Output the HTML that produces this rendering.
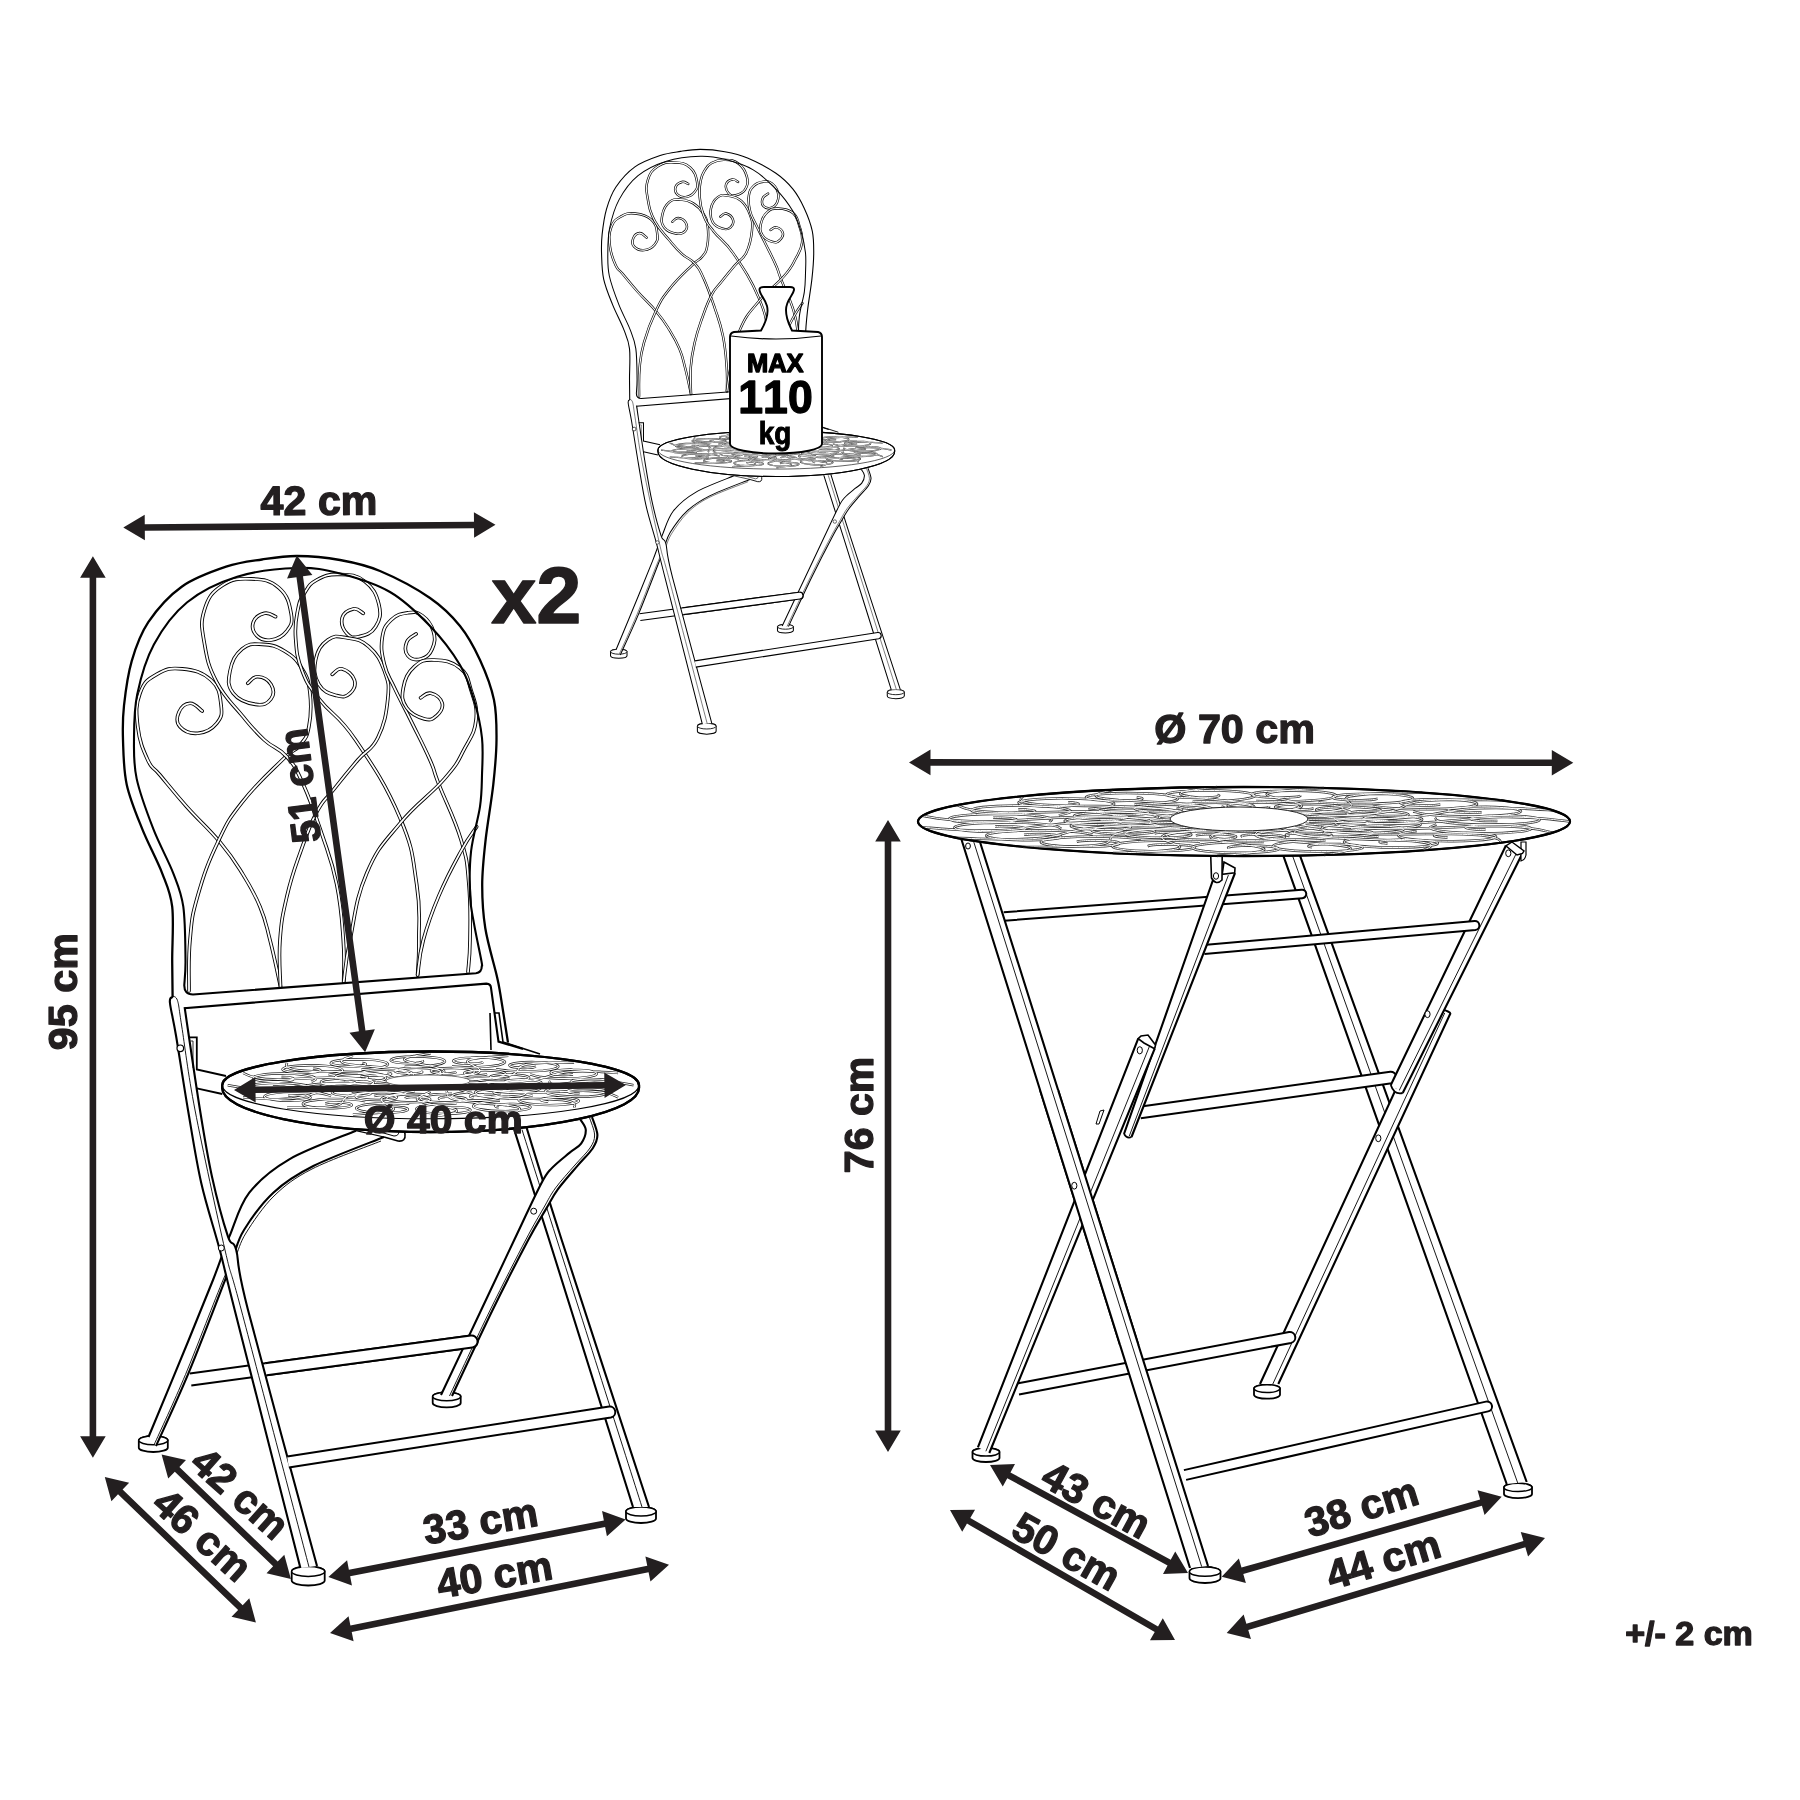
<!DOCTYPE html><html><head><meta charset="utf-8"><style>html,body{margin:0;padding:0;background:#fff;}svg{display:block;will-change:transform;}text{font-family:"Liberation Sans",sans-serif;font-weight:bold;font-kerning:none;}</style></head><body>
<svg width="1800" height="1800" viewBox="0 0 1800 1800">
<rect width="1800" height="1800" fill="#fff"/>
<defs><path id="pat0" d="M471.6,1085.2 C473.8,1085.3 480.5,1085.6 484.9,1085.8 C489.3,1086.1 493.6,1086.4 497.9,1086.6 C502.3,1086.8 506.6,1087.1 511,1087.2 C515.5,1087.3 520.1,1087.3 524.7,1087.2 C529.3,1087.1 534.1,1086.8 538.7,1086.5 C543.4,1086.2 548.1,1085.7 552.6,1085.2 C557.1,1084.6 561.4,1084 565.6,1083.5 C569.9,1082.9 573.9,1082.3 578.1,1081.9 C582.4,1081.5 586.5,1081.2 591,1081.1 C595.4,1081 600.1,1081.1 604.9,1081.4 C609.6,1081.6 614.7,1082.2 619.4,1082.8 C624.2,1083.4 631.2,1084.8 633.5,1085.2 M468.5,1087.6 C470.3,1087.8 475.7,1088.5 479.1,1089 C482.6,1089.5 485.7,1090.1 489.2,1090.5 C492.7,1091 496.1,1091.5 500,1091.8 C503.8,1092.2 508,1092.5 512.5,1092.7 C517,1092.8 522.1,1092.9 527.2,1092.9 C532.3,1092.8 537.9,1092.6 543.3,1092.4 C548.7,1092.2 554.3,1091.9 559.5,1091.7 C564.8,1091.4 569.9,1091.1 574.8,1091 C579.6,1090.9 584.3,1090.8 588.7,1091 C593,1091.2 597.2,1091.5 600.9,1092.1 C604.6,1092.6 608,1093.4 610.9,1094.2 C613.7,1095.1 616.9,1096.8 618.1,1097.3 M459.6,1089.7 C460.6,1090 463.9,1091 465.9,1091.6 C467.9,1092.3 469.5,1093 471.6,1093.6 C473.6,1094.3 475.6,1094.9 478.3,1095.5 C481,1096 484.1,1096.6 487.8,1097 C491.6,1097.4 496.1,1097.8 500.9,1098 C505.8,1098.3 511.4,1098.5 516.8,1098.6 C522.3,1098.7 528.3,1098.8 533.7,1098.9 C539.2,1099 544.7,1099 549.5,1099.2 C554.2,1099.4 558.7,1099.6 562.3,1100 C565.9,1100.4 568.9,1101 571,1101.7 C573.1,1102.4 574.3,1103.3 574.8,1104.3 C575.4,1105.3 574.2,1107 574.1,1107.6 M446.3,1091.1 C446.5,1091.4 447.1,1092.5 447.4,1093.2 C447.6,1094 447.4,1094.7 447.7,1095.4 C448,1096.1 448.3,1096.8 449.4,1097.5 C450.5,1098.2 452,1098.9 454.5,1099.5 C456.9,1100.1 460.2,1100.7 464,1101.3 C467.8,1101.8 472.6,1102.3 477.3,1102.7 C482,1103.2 487.5,1103.6 492.3,1104 C497.1,1104.4 502.1,1104.7 506.1,1105.2 C510,1105.7 513.6,1106.1 515.9,1106.7 C518.2,1107.3 519.6,1108 519.7,1108.8 C519.9,1109.6 518.8,1110.5 516.9,1111.5 C514.9,1112.4 509.7,1113.9 508.3,1114.4 M430.6,1091.6 C429.9,1091.9 427.8,1092.9 426.2,1093.6 C424.7,1094.3 422.6,1095 421.2,1095.7 C419.8,1096.3 418.2,1097 417.6,1097.7 C417,1098.4 416.8,1099.1 417.5,1099.8 C418.2,1100.6 419.7,1101.3 421.9,1102 C424.1,1102.8 427.4,1103.5 430.6,1104.2 C433.8,1104.9 438,1105.6 441.4,1106.2 C444.9,1106.9 448.7,1107.5 451.2,1108.2 C453.7,1108.8 455.9,1109.5 456.5,1110.2 C457.1,1110.9 456.7,1111.6 454.9,1112.4 C453.1,1113.1 449.8,1113.9 445.7,1114.6 C441.7,1115.4 433.1,1116.5 430.6,1116.8 M414.9,1091.1 C413.4,1091.3 408.9,1092.2 405.8,1092.7 C402.7,1093.3 399.1,1093.8 396.2,1094.3 C393.2,1094.8 390.1,1095.4 387.8,1096 C385.5,1096.6 383.6,1097.2 382.5,1097.9 C381.4,1098.6 381,1099.4 381.2,1100.2 C381.5,1101 382.6,1101.9 383.9,1102.7 C385.2,1103.6 387.4,1104.5 388.9,1105.3 C390.5,1106.1 392.4,1106.9 393.1,1107.7 C393.9,1108.4 394.3,1109.1 393.1,1109.8 C392,1110.5 389.8,1111.2 386.4,1111.7 C382.9,1112.3 377.9,1112.8 372.3,1113.3 C366.7,1113.7 356.2,1114.2 352.9,1114.4 M401.6,1089.7 C399.5,1089.8 393.3,1090.4 389.1,1090.7 C384.9,1091 380.4,1091.2 376.3,1091.5 C372.2,1091.9 368.1,1092.2 364.5,1092.6 C360.9,1093 357.6,1093.5 354.8,1094.1 C352,1094.7 349.8,1095.4 348,1096.1 C346.3,1096.9 345.2,1097.8 344.4,1098.6 C343.5,1099.5 343.4,1100.4 342.8,1101.3 C342.2,1102.1 342,1103 340.8,1103.7 C339.6,1104.4 338.2,1105.1 335.5,1105.7 C332.8,1106.3 329.2,1106.7 324.6,1107.1 C319.9,1107.4 314,1107.6 307.8,1107.7 C301.5,1107.7 290.5,1107.6 287.1,1107.6 M392.7,1087.6 C390.4,1087.6 383.4,1087.7 378.7,1087.8 C374.1,1087.8 369.4,1087.8 364.8,1087.8 C360.2,1087.9 355.7,1087.9 351.3,1088.1 C347,1088.3 342.7,1088.5 338.7,1088.9 C334.7,1089.3 330.8,1089.8 327.4,1090.4 C323.9,1091 320.8,1091.7 317.9,1092.4 C315,1093.2 312.6,1094 310,1094.8 C307.4,1095.5 305.1,1096.3 302.2,1096.9 C299.2,1097.5 296.2,1098.1 292.3,1098.5 C288.4,1098.8 284,1099 278.9,1099.1 C273.8,1099.1 267.9,1098.9 261.9,1098.6 C256,1098.3 246.2,1097.5 243.1,1097.3 M389.6,1085.2 C387.4,1085 380.7,1084.7 376.3,1084.5 C371.9,1084.2 367.6,1083.9 363.3,1083.7 C358.9,1083.5 354.6,1083.2 350.2,1083.1 C345.7,1083 341.1,1083 336.5,1083.1 C331.9,1083.2 327.1,1083.5 322.5,1083.8 C317.8,1084.1 313.1,1084.6 308.6,1085.2 C304.1,1085.7 299.8,1086.3 295.6,1086.8 C291.3,1087.4 287.3,1088 283.1,1088.4 C278.8,1088.8 274.7,1089.1 270.2,1089.2 C265.8,1089.3 261.1,1089.2 256.3,1088.9 C251.6,1088.7 246.5,1088.1 241.8,1087.5 C237,1086.9 230,1085.5 227.7,1085.2 M392.7,1082.7 C390.9,1082.5 385.5,1081.8 382.1,1081.3 C378.6,1080.8 375.5,1080.2 372,1079.8 C368.5,1079.3 365.1,1078.8 361.2,1078.5 C357.4,1078.1 353.2,1077.8 348.7,1077.6 C344.2,1077.5 339.1,1077.4 334,1077.4 C328.9,1077.5 323.3,1077.7 317.9,1077.9 C312.5,1078.1 306.9,1078.4 301.7,1078.6 C296.4,1078.9 291.3,1079.2 286.4,1079.3 C281.6,1079.4 276.9,1079.5 272.5,1079.3 C268.2,1079.1 264,1078.8 260.3,1078.2 C256.6,1077.7 253.2,1076.9 250.3,1076.1 C247.5,1075.2 244.3,1073.5 243.1,1073 M401.6,1080.6 C400.6,1080.3 397.3,1079.3 395.3,1078.7 C393.3,1078 391.7,1077.3 389.6,1076.7 C387.6,1076 385.6,1075.4 382.9,1074.8 C380.2,1074.3 377.1,1073.7 373.4,1073.3 C369.6,1072.9 365.1,1072.5 360.3,1072.3 C355.4,1072 349.8,1071.8 344.4,1071.7 C338.9,1071.6 332.9,1071.5 327.5,1071.4 C322,1071.3 316.5,1071.3 311.7,1071.1 C307,1070.9 302.5,1070.7 298.9,1070.3 C295.3,1069.9 292.3,1069.3 290.2,1068.6 C288.1,1067.9 286.9,1067 286.4,1066 C285.8,1065 287,1063.3 287.1,1062.7 M414.9,1079.2 C414.7,1078.9 414.1,1077.8 413.8,1077.1 C413.6,1076.3 413.8,1075.6 413.5,1074.9 C413.2,1074.2 412.9,1073.5 411.8,1072.8 C410.7,1072.1 409.2,1071.4 406.7,1070.8 C404.3,1070.2 401,1069.6 397.2,1069 C393.4,1068.5 388.6,1068 383.9,1067.6 C379.2,1067.1 373.7,1066.7 368.9,1066.3 C364.1,1065.9 359.1,1065.6 355.1,1065.1 C351.2,1064.6 347.6,1064.2 345.3,1063.6 C343,1063 341.6,1062.3 341.5,1061.5 C341.3,1060.7 342.4,1059.8 344.3,1058.8 C346.3,1057.9 351.5,1056.4 352.9,1055.9 M430.6,1078.8 C431.3,1078.4 433.4,1077.4 435,1076.7 C436.5,1076 438.6,1075.3 440,1074.6 C441.4,1074 443,1073.3 443.6,1072.6 C444.2,1071.9 444.4,1071.2 443.7,1070.5 C443,1069.7 441.5,1069 439.3,1068.3 C437.1,1067.5 433.8,1066.8 430.6,1066.1 C427.4,1065.4 423.2,1064.7 419.8,1064.1 C416.3,1063.4 412.5,1062.8 410,1062.1 C407.5,1061.5 405.3,1060.8 404.7,1060.1 C404.1,1059.4 404.5,1058.7 406.3,1057.9 C408.1,1057.2 411.4,1056.4 415.5,1055.7 C419.5,1054.9 428.1,1053.8 430.6,1053.5 M446.3,1079.2 C447.8,1079 452.3,1078.1 455.4,1077.6 C458.5,1077 462.1,1076.5 465,1076 C468,1075.5 471.1,1074.9 473.4,1074.3 C475.7,1073.7 477.6,1073.1 478.7,1072.4 C479.8,1071.7 480.2,1070.9 480,1070.1 C479.7,1069.3 478.6,1068.4 477.3,1067.6 C476,1066.7 473.8,1065.8 472.3,1065 C470.7,1064.2 468.8,1063.4 468.1,1062.6 C467.3,1061.9 466.9,1061.2 468.1,1060.5 C469.2,1059.8 471.4,1059.1 474.8,1058.6 C478.3,1058 483.3,1057.5 488.9,1057 C494.5,1056.6 505,1056.1 508.3,1055.9 M459.6,1080.6 C461.7,1080.5 467.9,1079.9 472.1,1079.6 C476.3,1079.3 480.8,1079.1 484.9,1078.8 C489,1078.4 493.1,1078.1 496.7,1077.7 C500.3,1077.3 503.6,1076.8 506.4,1076.2 C509.2,1075.6 511.4,1074.9 513.2,1074.2 C514.9,1073.4 516,1072.5 516.8,1071.7 C517.7,1070.8 517.8,1069.9 518.4,1069 C519,1068.2 519.2,1067.3 520.4,1066.6 C521.6,1065.9 523,1065.2 525.7,1064.6 C528.4,1064 532,1063.6 536.6,1063.2 C541.3,1062.9 547.2,1062.7 553.4,1062.6 C559.7,1062.6 570.7,1062.7 574.1,1062.7 M468.5,1082.7 C470.8,1082.7 477.8,1082.6 482.5,1082.5 C487.1,1082.5 491.8,1082.5 496.4,1082.5 C501,1082.4 505.5,1082.4 509.9,1082.2 C514.2,1082 518.5,1081.8 522.5,1081.4 C526.5,1081 530.4,1080.5 533.8,1079.9 C537.3,1079.3 540.4,1078.6 543.3,1077.9 C546.2,1077.1 548.6,1076.3 551.2,1075.5 C553.8,1074.8 556.1,1074 559,1073.4 C562,1072.8 565,1072.2 568.9,1071.8 C572.8,1071.5 577.2,1071.3 582.3,1071.2 C587.4,1071.2 593.3,1071.4 599.3,1071.7 C605.2,1072 615,1072.8 618.1,1073 M516.9,1089.1 C516.2,1089.1 513.9,1089.1 512.5,1089 C511.1,1088.9 509.5,1088.8 508.4,1088.6 C507.4,1088.4 506.4,1088.1 506.1,1087.7 C505.8,1087.4 505.9,1087.1 506.7,1086.8 C507.4,1086.4 508.8,1086.1 510.6,1085.8 C512.4,1085.6 514.9,1085.4 517.4,1085.3 C520,1085.2 523.1,1085.2 525.8,1085.3 C528.5,1085.4 531.5,1085.7 533.7,1086 C535.9,1086.3 538,1086.8 539,1087.3 C540.1,1087.7 540.5,1088.3 539.9,1088.9 C539.3,1089.4 537.8,1090 535.6,1090.5 C533.3,1090.9 530,1091.4 526.4,1091.6 C522.9,1091.9 518.4,1092 514.2,1092 C510.1,1092 505.4,1091.7 501.7,1091.4 C498,1091 494.2,1090.5 491.9,1089.9 C489.5,1089.3 487.8,1088.5 487.5,1087.7 C487.2,1087 489.8,1085.8 490.2,1085.4 M500.6,1094 C499.9,1093.9 497.8,1093.8 496.7,1093.6 C495.7,1093.5 494.6,1093.2 494.1,1093 C493.7,1092.7 493.5,1092.4 494,1092.1 C494.5,1091.8 495.5,1091.4 496.9,1091.2 C498.4,1090.9 500.5,1090.7 502.8,1090.6 C505.1,1090.4 507.9,1090.4 510.5,1090.5 C513.1,1090.5 516,1090.7 518.2,1091 C520.4,1091.2 522.6,1091.6 523.9,1092.1 C525.1,1092.5 525.9,1093.1 525.6,1093.6 C525.4,1094.1 524.3,1094.7 522.5,1095.1 C520.6,1095.6 517.8,1096 514.6,1096.3 C511.4,1096.6 507.2,1096.8 503.3,1096.8 C499.4,1096.9 494.8,1096.7 491.1,1096.5 C487.4,1096.2 483.5,1095.7 481,1095.2 C478.4,1094.6 476.3,1093.9 475.6,1093.2 C474.9,1092.5 475.3,1091.6 476.9,1090.9 C478.4,1090.2 483.7,1089.3 485,1088.9 M473.6,1097.5 C473.2,1097.4 471.5,1097.2 470.9,1096.9 C470.3,1096.7 469.9,1096.4 470.2,1096.2 C470.4,1095.9 471.1,1095.6 472.2,1095.3 C473.4,1095.1 475.1,1094.8 477.1,1094.7 C479.1,1094.5 481.7,1094.4 484,1094.5 C486.4,1094.5 489.2,1094.6 491.4,1094.8 C493.6,1095 495.9,1095.4 497.3,1095.8 C498.7,1096.1 499.7,1096.6 499.8,1097.1 C499.9,1097.6 499.2,1098.2 497.7,1098.6 C496.3,1099.1 493.9,1099.5 491,1099.8 C488.2,1100.2 484.4,1100.4 480.8,1100.5 C477.1,1100.6 472.7,1100.5 469.1,1100.3 C465.4,1100.1 461.5,1099.7 458.8,1099.2 C456,1098.7 453.6,1098.1 452.6,1097.4 C451.5,1096.8 451.4,1096 452.5,1095.3 C453.6,1094.6 456,1093.8 459.1,1093.3 C462.3,1092.7 469.5,1092.1 471.6,1091.9 M440.1,1099.1 C439.9,1099 438.9,1098.7 438.9,1098.4 C438.9,1098.2 439.3,1097.9 440.2,1097.7 C441,1097.4 442.4,1097.2 444.1,1097 C445.8,1096.9 448,1096.7 450.2,1096.7 C452.4,1096.7 455,1096.8 457.1,1097 C459.3,1097.1 461.5,1097.4 463.1,1097.7 C464.6,1098.1 465.8,1098.5 466.2,1098.9 C466.5,1099.4 466.2,1099.9 465.2,1100.3 C464.1,1100.8 462.1,1101.3 459.6,1101.6 C457.2,1101.9 453.8,1102.2 450.4,1102.3 C447,1102.5 442.9,1102.5 439.3,1102.3 C435.8,1102.2 431.9,1101.9 429,1101.4 C426.1,1101 423.5,1100.4 422.1,1099.8 C420.8,1099.2 420.2,1098.5 420.8,1097.8 C421.5,1097.1 423.3,1096.4 426,1095.8 C428.7,1095.2 432.8,1094.7 437.1,1094.3 C441.4,1094 449.4,1093.9 451.9,1093.8 M405.2,1098.6 C405.3,1098.5 405.1,1098.2 405.7,1097.9 C406.3,1097.7 407.3,1097.5 408.7,1097.3 C410.1,1097.1 412,1097 414,1096.9 C415.9,1096.9 418.3,1096.9 420.3,1097 C422.4,1097.1 424.6,1097.4 426.2,1097.6 C427.7,1097.9 429.2,1098.3 429.8,1098.7 C430.3,1099.1 430.4,1099.6 429.7,1100 C428.9,1100.4 427.4,1100.9 425.3,1101.3 C423.2,1101.6 420.2,1101.9 417.1,1102.1 C414,1102.2 410.2,1102.3 406.7,1102.2 C403.3,1102.1 399.5,1101.9 396.6,1101.5 C393.6,1101.2 390.8,1100.7 389.2,1100.1 C387.5,1099.6 386.6,1098.8 386.8,1098.2 C387,1097.6 388.3,1096.8 390.6,1096.2 C392.8,1095.7 396.4,1095.1 400.3,1094.7 C404.2,1094.3 409.3,1094.1 414.1,1094 C418.8,1094 426.5,1094.4 428.9,1094.5 M374.1,1096.1 C374.5,1096 375.2,1095.6 376.3,1095.5 C377.3,1095.3 378.9,1095.1 380.6,1095.1 C382.3,1095 384.4,1095 386.3,1095 C388.2,1095.1 390.4,1095.3 392,1095.5 C393.6,1095.7 395.1,1096.1 395.9,1096.4 C396.7,1096.8 397,1097.2 396.6,1097.6 C396.2,1098 395,1098.5 393.3,1098.8 C391.6,1099.2 389,1099.5 386.2,1099.7 C383.4,1099.9 379.9,1100 376.6,1100 C373.4,1099.9 369.7,1099.8 366.7,1099.5 C363.8,1099.2 360.8,1098.8 359,1098.3 C357.1,1097.8 355.8,1097.1 355.6,1096.5 C355.5,1095.9 356.3,1095.2 358.1,1094.6 C359.9,1094 362.9,1093.4 366.4,1093 C369.9,1092.6 374.6,1092.3 379.1,1092.2 C383.6,1092.1 389,1092.1 393.5,1092.4 C398.1,1092.6 404.1,1093.4 406.3,1093.6 M351.6,1091.9 C352.2,1091.8 353.7,1091.5 355.1,1091.4 C356.5,1091.4 358.4,1091.3 360.1,1091.3 C361.8,1091.4 363.9,1091.5 365.4,1091.6 C367,1091.8 368.6,1092.1 369.5,1092.4 C370.4,1092.7 371.1,1093.1 370.9,1093.5 C370.8,1093.9 370,1094.3 368.6,1094.6 C367.2,1095 365.1,1095.3 362.6,1095.6 C360.2,1095.8 356.9,1095.9 353.9,1095.9 C350.9,1096 347.3,1095.9 344.4,1095.6 C341.5,1095.4 338.4,1095 336.4,1094.6 C334.4,1094.1 332.8,1093.6 332.3,1093 C331.8,1092.4 332.2,1091.7 333.5,1091.2 C334.9,1090.6 337.4,1090 340.5,1089.5 C343.6,1089.1 347.8,1088.7 352,1088.6 C356.3,1088.4 361.4,1088.4 365.8,1088.6 C370.3,1088.7 375.1,1089.1 378.7,1089.6 C382.2,1090.1 385.8,1091.2 387.3,1091.5 M341.2,1086.6 C341.9,1086.6 343.9,1086.4 345.4,1086.5 C346.9,1086.5 348.8,1086.5 350.3,1086.6 C351.8,1086.8 353.5,1087 354.5,1087.3 C355.5,1087.5 356.3,1087.9 356.4,1088.2 C356.5,1088.5 356.1,1089 355,1089.3 C354,1089.6 352.2,1090 350.1,1090.2 C347.9,1090.5 345.1,1090.6 342.3,1090.7 C339.5,1090.8 336.1,1090.7 333.3,1090.5 C330.4,1090.4 327.4,1090.1 325.3,1089.7 C323.1,1089.3 321.2,1088.8 320.5,1088.2 C319.7,1087.7 319.6,1087.1 320.6,1086.5 C321.5,1086 323.5,1085.3 326.2,1084.9 C328.9,1084.5 332.7,1084 336.6,1083.8 C340.5,1083.6 345.3,1083.5 349.6,1083.6 C353.9,1083.7 358.7,1084 362.4,1084.4 C366.1,1084.9 369.6,1085.5 371.7,1086.2 C373.8,1086.8 374.4,1088.1 374.9,1088.5 M344.3,1081.2 C345,1081.2 347.3,1081.2 348.7,1081.3 C350.1,1081.4 351.7,1081.5 352.8,1081.7 C353.8,1081.9 354.8,1082.2 355.1,1082.6 C355.4,1082.9 355.3,1083.2 354.5,1083.5 C353.8,1083.9 352.4,1084.2 350.6,1084.5 C348.8,1084.7 346.3,1084.9 343.8,1085 C341.2,1085.1 338.1,1085.1 335.4,1085 C332.7,1084.9 329.7,1084.6 327.5,1084.3 C325.3,1084 323.2,1083.5 322.2,1083 C321.1,1082.6 320.7,1082 321.3,1081.4 C321.9,1080.9 323.4,1080.3 325.6,1079.8 C327.9,1079.4 331.2,1078.9 334.8,1078.7 C338.3,1078.4 342.8,1078.3 347,1078.3 C351.1,1078.3 355.8,1078.6 359.5,1078.9 C363.2,1079.3 367,1079.8 369.3,1080.4 C371.7,1081 373.4,1081.8 373.7,1082.6 C374,1083.3 371.4,1084.5 371,1084.9 M360.6,1076.3 C361.3,1076.4 363.4,1076.5 364.5,1076.7 C365.5,1076.8 366.6,1077.1 367.1,1077.3 C367.5,1077.6 367.7,1077.9 367.2,1078.2 C366.7,1078.5 365.7,1078.9 364.3,1079.1 C362.8,1079.4 360.7,1079.6 358.4,1079.7 C356.1,1079.9 353.3,1079.9 350.7,1079.8 C348.1,1079.8 345.2,1079.6 343,1079.3 C340.8,1079.1 338.6,1078.7 337.3,1078.2 C336.1,1077.8 335.3,1077.2 335.6,1076.7 C335.8,1076.2 336.9,1075.6 338.7,1075.2 C340.6,1074.7 343.4,1074.3 346.6,1074 C349.8,1073.7 354,1073.5 357.9,1073.5 C361.8,1073.4 366.4,1073.6 370.1,1073.8 C373.8,1074.1 377.7,1074.6 380.2,1075.1 C382.8,1075.7 384.9,1076.4 385.6,1077.1 C386.3,1077.8 385.9,1078.7 384.3,1079.4 C382.8,1080.1 377.5,1081 376.2,1081.4 M387.6,1072.8 C388,1072.9 389.7,1073.1 390.3,1073.4 C390.9,1073.6 391.3,1073.9 391,1074.1 C390.8,1074.4 390.1,1074.7 389,1075 C387.8,1075.2 386.1,1075.5 384.1,1075.6 C382.1,1075.8 379.5,1075.9 377.2,1075.8 C374.8,1075.8 372,1075.7 369.8,1075.5 C367.6,1075.3 365.3,1074.9 363.9,1074.5 C362.5,1074.2 361.5,1073.7 361.4,1073.2 C361.3,1072.7 362,1072.1 363.5,1071.7 C364.9,1071.2 367.3,1070.8 370.2,1070.5 C373,1070.1 376.8,1069.9 380.4,1069.8 C384.1,1069.7 388.5,1069.8 392.1,1070 C395.8,1070.2 399.7,1070.6 402.4,1071.1 C405.2,1071.6 407.6,1072.2 408.6,1072.9 C409.7,1073.5 409.8,1074.3 408.7,1075 C407.6,1075.7 405.2,1076.5 402.1,1077 C398.9,1077.6 391.7,1078.2 389.6,1078.4 M421.1,1071.2 C421.3,1071.3 422.3,1071.6 422.3,1071.9 C422.3,1072.1 421.9,1072.4 421,1072.6 C420.2,1072.9 418.8,1073.1 417.1,1073.3 C415.4,1073.4 413.2,1073.6 411,1073.6 C408.8,1073.6 406.2,1073.5 404.1,1073.3 C401.9,1073.2 399.7,1072.9 398.1,1072.6 C396.6,1072.2 395.4,1071.8 395,1071.4 C394.7,1070.9 395,1070.4 396,1070 C397.1,1069.5 399.1,1069 401.6,1068.7 C404,1068.4 407.4,1068.1 410.8,1068 C414.2,1067.8 418.3,1067.8 421.9,1068 C425.4,1068.1 429.3,1068.4 432.2,1068.9 C435.1,1069.3 437.7,1069.9 439.1,1070.5 C440.4,1071.1 441,1071.8 440.4,1072.5 C439.7,1073.2 437.9,1073.9 435.2,1074.5 C432.5,1075.1 428.4,1075.6 424.1,1076 C419.8,1076.3 411.8,1076.4 409.3,1076.5 M456,1071.7 C455.9,1071.8 456.1,1072.1 455.5,1072.4 C454.9,1072.6 453.9,1072.8 452.5,1073 C451.1,1073.2 449.2,1073.3 447.2,1073.4 C445.3,1073.4 442.9,1073.4 440.9,1073.3 C438.8,1073.2 436.6,1072.9 435,1072.7 C433.5,1072.4 432,1072 431.4,1071.6 C430.9,1071.2 430.8,1070.7 431.5,1070.3 C432.3,1069.9 433.8,1069.4 435.9,1069 C438,1068.7 441,1068.4 444.1,1068.2 C447.2,1068.1 451,1068 454.5,1068.1 C457.9,1068.2 461.7,1068.4 464.6,1068.8 C467.6,1069.1 470.4,1069.6 472,1070.2 C473.7,1070.7 474.6,1071.5 474.4,1072.1 C474.2,1072.7 472.9,1073.5 470.6,1074.1 C468.4,1074.6 464.8,1075.2 460.9,1075.6 C457,1076 451.9,1076.2 447.1,1076.3 C442.4,1076.3 434.7,1075.9 432.3,1075.8 M487.1,1074.2 C486.7,1074.3 486,1074.7 484.9,1074.8 C483.9,1075 482.3,1075.2 480.6,1075.2 C478.9,1075.3 476.8,1075.3 474.9,1075.3 C473,1075.2 470.8,1075 469.2,1074.8 C467.6,1074.6 466.1,1074.2 465.3,1073.9 C464.5,1073.5 464.2,1073.1 464.6,1072.7 C465,1072.3 466.2,1071.8 467.9,1071.5 C469.6,1071.1 472.2,1070.8 475,1070.6 C477.8,1070.4 481.3,1070.3 484.6,1070.3 C487.8,1070.4 491.5,1070.5 494.5,1070.8 C497.4,1071.1 500.4,1071.5 502.2,1072 C504.1,1072.5 505.4,1073.2 505.6,1073.8 C505.7,1074.4 504.9,1075.1 503.1,1075.7 C501.3,1076.3 498.3,1076.9 494.8,1077.3 C491.3,1077.7 486.6,1078 482.1,1078.1 C477.6,1078.2 472.2,1078.2 467.7,1077.9 C463.1,1077.7 457.1,1076.9 454.9,1076.7 M509.6,1078.4 C509,1078.5 507.5,1078.8 506.1,1078.9 C504.7,1078.9 502.8,1079 501.1,1079 C499.4,1078.9 497.3,1078.8 495.8,1078.7 C494.2,1078.5 492.6,1078.2 491.7,1077.9 C490.8,1077.6 490.1,1077.2 490.3,1076.8 C490.4,1076.4 491.2,1076 492.6,1075.7 C494,1075.3 496.1,1075 498.6,1074.7 C501,1074.5 504.3,1074.4 507.3,1074.4 C510.3,1074.3 513.9,1074.4 516.8,1074.7 C519.7,1074.9 522.8,1075.3 524.8,1075.7 C526.8,1076.2 528.4,1076.7 528.9,1077.3 C529.4,1077.9 529,1078.6 527.7,1079.1 C526.3,1079.7 523.8,1080.3 520.7,1080.8 C517.6,1081.2 513.4,1081.6 509.2,1081.7 C504.9,1081.9 499.8,1081.9 495.4,1081.7 C490.9,1081.6 486.1,1081.2 482.5,1080.7 C479,1080.2 475.4,1079.1 473.9,1078.8 M520,1083.7 C519.3,1083.7 517.3,1083.9 515.8,1083.8 C514.3,1083.8 512.4,1083.8 510.9,1083.7 C509.4,1083.5 507.7,1083.3 506.7,1083 C505.7,1082.8 504.9,1082.4 504.8,1082.1 C504.7,1081.8 505.1,1081.3 506.2,1081 C507.2,1080.7 509,1080.3 511.1,1080.1 C513.3,1079.8 516.1,1079.7 518.9,1079.6 C521.7,1079.5 525.1,1079.6 527.9,1079.8 C530.8,1079.9 533.8,1080.2 535.9,1080.6 C538.1,1081 540,1081.5 540.7,1082.1 C541.5,1082.6 541.6,1083.2 540.6,1083.8 C539.7,1084.3 537.7,1085 535,1085.4 C532.3,1085.8 528.5,1086.3 524.6,1086.5 C520.7,1086.7 515.9,1086.8 511.6,1086.7 C507.3,1086.6 502.5,1086.3 498.8,1085.9 C495.1,1085.4 491.6,1084.8 489.5,1084.1 C487.4,1083.5 486.8,1082.2 486.3,1081.8 M579.6,1093.3 C578.7,1093.3 576,1093.3 574.4,1093.2 C572.7,1093 570.9,1092.8 569.8,1092.5 C568.7,1092.3 567.7,1091.9 567.5,1091.5 C567.4,1091.2 567.7,1090.7 568.8,1090.3 C569.9,1090 571.8,1089.6 574.1,1089.3 C576.4,1089 579.5,1088.8 582.6,1088.7 C585.7,1088.7 589.4,1088.7 592.6,1088.9 C595.8,1089.1 599.2,1089.4 601.7,1089.8 C604.1,1090.2 606.3,1090.8 607.2,1091.4 C608.2,1092 608.3,1092.7 607.3,1093.4 C606.3,1094 604.1,1094.7 601.1,1095.2 C598.1,1095.7 593.9,1096.2 589.5,1096.5 C585,1096.7 579.5,1096.8 574.6,1096.7 C569.7,1096.6 564.2,1096.3 560,1095.8 C555.7,1095.3 551.6,1094.6 549.2,1093.9 C546.7,1093.1 545.2,1092.1 545.3,1091.2 C545.4,1090.3 549.2,1088.9 549.9,1088.5 M548.2,1101.6 C547.5,1101.5 545,1101.4 543.8,1101.1 C542.6,1100.9 541.5,1100.6 541.1,1100.3 C540.7,1100 540.7,1099.6 541.5,1099.2 C542.2,1098.9 543.6,1098.5 545.6,1098.2 C547.5,1097.9 550.2,1097.7 552.9,1097.6 C555.7,1097.5 559.2,1097.4 562.2,1097.5 C565.2,1097.7 568.6,1097.9 571.1,1098.3 C573.6,1098.6 576,1099.1 577.2,1099.7 C578.4,1100.2 579,1100.9 578.4,1101.5 C577.8,1102.1 576.2,1102.8 573.7,1103.3 C571.2,1103.8 567.5,1104.3 563.5,1104.6 C559.5,1104.9 554.3,1105.1 549.7,1105.1 C545,1105.1 539.6,1104.8 535.3,1104.4 C531,1104 526.7,1103.4 524,1102.7 C521.2,1102 519.2,1101.1 518.8,1100.3 C518.4,1099.4 519.4,1098.4 521.7,1097.6 C524,1096.8 530.8,1095.7 532.7,1095.4 M498.9,1107.4 C498.4,1107.3 496.5,1107 496,1106.7 C495.4,1106.4 495.2,1106.1 495.6,1105.7 C496,1105.4 497,1105 498.6,1104.8 C500.1,1104.5 502.4,1104.2 504.8,1104.1 C507.2,1103.9 510.4,1103.9 513.2,1103.9 C516,1104 519.3,1104.2 521.8,1104.5 C524.3,1104.8 526.8,1105.2 528.2,1105.7 C529.7,1106.2 530.6,1106.8 530.4,1107.3 C530.2,1107.9 529.1,1108.6 527.1,1109.1 C525,1109.6 521.9,1110.1 518.3,1110.5 C514.7,1110.8 510,1111 505.6,1111.1 C501.2,1111.1 496,1111 491.7,1110.7 C487.5,1110.4 483,1109.8 480.1,1109.2 C477.1,1108.6 474.6,1107.8 473.8,1107 C472.9,1106.2 473.2,1105.2 475,1104.4 C476.7,1103.6 480,1102.7 484.2,1102.1 C488.3,1101.5 497.3,1100.9 499.9,1100.7 M439.2,1109.8 C439.1,1109.6 438.1,1109.2 438.2,1108.9 C438.4,1108.7 439,1108.3 440.2,1108.1 C441.3,1107.8 443.2,1107.5 445.3,1107.3 C447.4,1107.2 450.2,1107.1 452.8,1107.1 C455.4,1107.1 458.4,1107.2 460.9,1107.4 C463.4,1107.7 465.9,1108 467.5,1108.4 C469.1,1108.9 470.3,1109.4 470.5,1109.9 C470.6,1110.5 470,1111.1 468.4,1111.6 C466.8,1112.1 464.2,1112.7 461.1,1113 C457.9,1113.4 453.7,1113.7 449.5,1113.8 C445.4,1113.9 440.5,1113.8 436.3,1113.6 C432.1,1113.4 427.7,1112.9 424.5,1112.4 C421.3,1111.8 418.5,1111.1 417.3,1110.3 C416,1109.6 415.8,1108.7 417,1107.9 C418.2,1107.1 420.8,1106.2 424.4,1105.6 C428,1104.9 433.2,1104.3 438.5,1104 C443.9,1103.7 453.5,1103.7 456.5,1103.6 M378.3,1108.4 C378.4,1108.3 378.4,1107.8 379.3,1107.6 C380.1,1107.3 381.5,1107.1 383.3,1106.9 C385,1106.7 387.4,1106.5 389.8,1106.5 C392.1,1106.5 395,1106.6 397.3,1106.7 C399.7,1106.9 402.3,1107.2 404,1107.5 C405.7,1107.9 407.1,1108.4 407.6,1108.9 C408.1,1109.4 407.8,1109.9 406.7,1110.4 C405.5,1110.9 403.4,1111.5 400.7,1111.9 C398,1112.2 394.2,1112.6 390.4,1112.7 C386.6,1112.9 382,1112.9 377.9,1112.7 C373.9,1112.6 369.4,1112.2 366.1,1111.8 C362.9,1111.3 359.8,1110.6 358.2,1109.9 C356.6,1109.3 355.8,1108.4 356.5,1107.6 C357.2,1106.9 359.2,1106 362.2,1105.3 C365.3,1104.7 369.9,1104 374.8,1103.7 C379.7,1103.3 385.9,1103 391.7,1103.1 C397.4,1103.1 406.3,1103.7 409.2,1103.8 M325.2,1103.5 C325.7,1103.4 326.8,1103 328.2,1102.8 C329.6,1102.6 331.6,1102.5 333.6,1102.4 C335.7,1102.3 338.3,1102.3 340.5,1102.5 C342.7,1102.6 345.2,1102.8 347,1103.1 C348.7,1103.4 350.4,1103.8 351.1,1104.2 C351.8,1104.7 352,1105.2 351.2,1105.7 C350.4,1106.2 348.8,1106.7 346.5,1107.1 C344.2,1107.5 340.9,1107.8 337.5,1108 C334.1,1108.2 329.7,1108.3 325.9,1108.2 C322,1108.1 317.7,1107.9 314.3,1107.5 C311,1107.1 307.7,1106.5 305.8,1105.9 C303.9,1105.3 302.7,1104.5 302.9,1103.7 C303.1,1103 304.5,1102.2 307,1101.5 C309.5,1100.8 313.5,1100.2 317.9,1099.7 C322.4,1099.3 328.2,1099 333.6,1098.9 C339.1,1098.9 345.5,1099 350.7,1099.4 C356,1099.7 362.8,1100.8 365.2,1101.1 M288.2,1095.8 C289,1095.7 290.9,1095.4 292.7,1095.4 C294.4,1095.3 296.7,1095.2 298.7,1095.3 C300.8,1095.4 303.1,1095.5 304.9,1095.8 C306.7,1096 308.4,1096.4 309.3,1096.7 C310.3,1097.1 310.7,1097.6 310.3,1098 C309.9,1098.5 308.7,1099 306.9,1099.4 C305,1099.8 302.2,1100.2 299.1,1100.4 C296.1,1100.6 292.1,1100.8 288.5,1100.7 C284.8,1100.7 280.6,1100.5 277.3,1100.2 C273.9,1099.9 270.6,1099.4 268.4,1098.8 C266.3,1098.3 264.7,1097.5 264.5,1096.9 C264.2,1096.2 265.1,1095.4 267.1,1094.7 C269,1094 272.4,1093.3 276.4,1092.9 C280.3,1092.4 285.6,1092 290.8,1091.9 C295.9,1091.8 302.1,1091.8 307.3,1092.1 C312.5,1092.3 318,1092.9 322,1093.5 C326,1094.2 329.6,1095.6 331.1,1096 M272.9,1086.5 C273.8,1086.5 276.3,1086.3 278.1,1086.3 C280,1086.4 282.2,1086.5 283.9,1086.6 C285.6,1086.8 287.4,1087.1 288.5,1087.4 C289.5,1087.8 290.3,1088.2 290.2,1088.6 C290.1,1089 289.3,1089.5 287.9,1089.9 C286.4,1090.3 284.1,1090.7 281.4,1090.9 C278.7,1091.2 275.2,1091.4 271.8,1091.4 C268.4,1091.4 264.4,1091.3 261.1,1091.1 C257.8,1090.8 254.4,1090.4 252,1089.9 C249.7,1089.4 247.8,1088.8 247.2,1088.1 C246.6,1087.5 246.9,1086.7 248.4,1086 C249.9,1085.4 252.7,1084.7 256.1,1084.2 C259.6,1083.7 264.4,1083.3 269.2,1083.1 C274,1082.9 279.8,1082.8 284.9,1083 C290,1083.2 295.5,1083.6 299.7,1084.2 C303.8,1084.7 307.7,1085.6 309.7,1086.4 C311.8,1087.2 311.8,1088.7 312.2,1089.2 M281.6,1077 C282.5,1077 285.2,1077 286.8,1077.1 C288.5,1077.3 290.3,1077.5 291.4,1077.8 C292.5,1078 293.5,1078.4 293.7,1078.8 C293.8,1079.1 293.5,1079.6 292.4,1080 C291.3,1080.3 289.4,1080.7 287.1,1081 C284.8,1081.3 281.7,1081.5 278.6,1081.6 C275.5,1081.6 271.8,1081.6 268.6,1081.4 C265.4,1081.2 262,1080.9 259.5,1080.5 C257.1,1080.1 254.9,1079.5 254,1078.9 C253,1078.3 252.9,1077.6 253.9,1076.9 C254.9,1076.3 257.1,1075.6 260.1,1075.1 C263.1,1074.6 267.3,1074.1 271.7,1073.8 C276.2,1073.6 281.7,1073.5 286.6,1073.6 C291.5,1073.7 297,1074 301.2,1074.5 C305.5,1075 309.6,1075.7 312,1076.4 C314.5,1077.2 316,1078.2 315.9,1079.1 C315.8,1080 312,1081.4 311.3,1081.8 M313,1068.7 C313.7,1068.8 316.2,1068.9 317.4,1069.2 C318.6,1069.4 319.7,1069.7 320.1,1070 C320.5,1070.3 320.5,1070.7 319.7,1071.1 C319,1071.4 317.6,1071.8 315.6,1072.1 C313.7,1072.4 311,1072.6 308.3,1072.7 C305.5,1072.8 302,1072.9 299,1072.8 C296,1072.6 292.6,1072.4 290.1,1072 C287.6,1071.7 285.2,1071.2 284,1070.6 C282.8,1070.1 282.2,1069.4 282.8,1068.8 C283.4,1068.2 285,1067.5 287.5,1067 C290,1066.5 293.7,1066 297.7,1065.7 C301.7,1065.4 306.9,1065.2 311.5,1065.2 C316.2,1065.2 321.6,1065.5 325.9,1065.9 C330.2,1066.3 334.5,1066.9 337.2,1067.6 C340,1068.3 342,1069.2 342.4,1070 C342.8,1070.9 341.8,1071.9 339.5,1072.7 C337.2,1073.5 330.4,1074.6 328.5,1074.9 M362.3,1062.9 C362.8,1063 364.7,1063.3 365.2,1063.6 C365.8,1063.9 366,1064.2 365.6,1064.6 C365.2,1064.9 364.2,1065.3 362.6,1065.5 C361.1,1065.8 358.8,1066.1 356.4,1066.2 C354,1066.4 350.8,1066.4 348,1066.4 C345.2,1066.3 341.9,1066.1 339.4,1065.8 C336.9,1065.5 334.4,1065.1 333,1064.6 C331.5,1064.1 330.6,1063.5 330.8,1063 C331,1062.4 332.1,1061.7 334.1,1061.2 C336.2,1060.7 339.3,1060.2 342.9,1059.8 C346.5,1059.5 351.2,1059.3 355.6,1059.2 C360,1059.2 365.2,1059.3 369.5,1059.6 C373.7,1059.9 378.2,1060.5 381.1,1061.1 C384.1,1061.7 386.6,1062.5 387.4,1063.3 C388.3,1064.1 388,1065.1 386.2,1065.9 C384.5,1066.7 381.2,1067.6 377,1068.2 C372.9,1068.8 363.9,1069.4 361.3,1069.6 M422,1060.5 C422.1,1060.7 423.1,1061.1 423,1061.4 C422.8,1061.6 422.2,1062 421,1062.2 C419.9,1062.5 418,1062.8 415.9,1063 C413.8,1063.1 411,1063.2 408.4,1063.2 C405.8,1063.2 402.8,1063.1 400.3,1062.9 C397.8,1062.6 395.3,1062.3 393.7,1061.9 C392.1,1061.4 390.9,1060.9 390.7,1060.4 C390.6,1059.8 391.2,1059.2 392.8,1058.7 C394.4,1058.2 397,1057.6 400.1,1057.3 C403.3,1056.9 407.5,1056.6 411.7,1056.5 C415.8,1056.4 420.7,1056.5 424.9,1056.7 C429.1,1056.9 433.5,1057.4 436.7,1057.9 C439.9,1058.5 442.7,1059.2 443.9,1060 C445.2,1060.7 445.4,1061.6 444.2,1062.4 C443,1063.2 440.4,1064.1 436.8,1064.7 C433.2,1065.4 428,1066 422.7,1066.3 C417.3,1066.6 407.7,1066.6 404.7,1066.7 M482.9,1061.9 C482.8,1062 482.8,1062.5 481.9,1062.7 C481.1,1063 479.7,1063.2 477.9,1063.4 C476.2,1063.6 473.8,1063.8 471.4,1063.8 C469.1,1063.8 466.2,1063.7 463.9,1063.6 C461.5,1063.4 458.9,1063.1 457.2,1062.8 C455.5,1062.4 454.1,1061.9 453.6,1061.4 C453.1,1060.9 453.4,1060.4 454.5,1059.9 C455.7,1059.4 457.8,1058.8 460.5,1058.4 C463.2,1058.1 467,1057.7 470.8,1057.6 C474.6,1057.4 479.2,1057.4 483.3,1057.6 C487.3,1057.7 491.8,1058.1 495.1,1058.5 C498.3,1059 501.4,1059.7 503,1060.4 C504.6,1061 505.4,1061.9 504.7,1062.7 C504,1063.4 502,1064.3 499,1065 C495.9,1065.6 491.3,1066.3 486.4,1066.6 C481.5,1067 475.3,1067.3 469.5,1067.2 C463.8,1067.2 454.9,1066.6 452,1066.5 M536,1066.8 C535.5,1066.9 534.4,1067.3 533,1067.5 C531.6,1067.7 529.6,1067.8 527.6,1067.9 C525.5,1068 522.9,1068 520.7,1067.8 C518.5,1067.7 516,1067.5 514.2,1067.2 C512.5,1066.9 510.8,1066.5 510.1,1066.1 C509.4,1065.6 509.2,1065.1 510,1064.6 C510.8,1064.1 512.4,1063.6 514.7,1063.2 C517,1062.8 520.3,1062.5 523.7,1062.3 C527.1,1062.1 531.5,1062 535.3,1062.1 C539.2,1062.2 543.5,1062.4 546.9,1062.8 C550.2,1063.2 553.5,1063.8 555.4,1064.4 C557.3,1065 558.5,1065.8 558.3,1066.6 C558.1,1067.3 556.7,1068.1 554.2,1068.8 C551.7,1069.5 547.7,1070.1 543.3,1070.6 C538.8,1071 533,1071.3 527.6,1071.4 C522.1,1071.4 515.7,1071.3 510.5,1070.9 C505.2,1070.6 498.4,1069.5 496,1069.2 M573,1074.5 C572.2,1074.6 570.3,1074.9 568.5,1074.9 C566.8,1075 564.5,1075.1 562.5,1075 C560.4,1074.9 558.1,1074.8 556.3,1074.5 C554.5,1074.3 552.8,1073.9 551.9,1073.6 C550.9,1073.2 550.5,1072.7 550.9,1072.3 C551.3,1071.8 552.5,1071.3 554.3,1070.9 C556.2,1070.5 559,1070.1 562.1,1069.9 C565.1,1069.7 569.1,1069.5 572.7,1069.6 C576.4,1069.6 580.6,1069.8 583.9,1070.1 C587.3,1070.4 590.6,1070.9 592.8,1071.5 C594.9,1072 596.5,1072.8 596.7,1073.4 C597,1074.1 596.1,1074.9 594.1,1075.6 C592.2,1076.3 588.8,1077 584.8,1077.4 C580.9,1077.9 575.6,1078.3 570.4,1078.4 C565.3,1078.5 559.1,1078.5 553.9,1078.2 C548.7,1078 543.2,1077.4 539.2,1076.8 C535.2,1076.1 531.6,1074.7 530.1,1074.3 M588.3,1083.8 C587.4,1083.8 584.9,1084 583.1,1084 C581.2,1083.9 579,1083.8 577.3,1083.7 C575.6,1083.5 573.8,1083.2 572.7,1082.9 C571.7,1082.5 570.9,1082.1 571,1081.7 C571.1,1081.3 571.9,1080.8 573.3,1080.4 C574.8,1080 577.1,1079.6 579.8,1079.4 C582.5,1079.1 586,1078.9 589.4,1078.9 C592.8,1078.9 596.8,1079 600.1,1079.2 C603.4,1079.5 606.8,1079.9 609.2,1080.4 C611.5,1080.9 613.4,1081.5 614,1082.2 C614.6,1082.8 614.3,1083.6 612.8,1084.3 C611.3,1084.9 608.5,1085.6 605.1,1086.1 C601.6,1086.6 596.8,1087 592,1087.2 C587.2,1087.4 581.4,1087.5 576.3,1087.3 C571.2,1087.1 565.7,1086.7 561.5,1086.1 C557.4,1085.6 553.5,1084.7 551.5,1083.9 C549.4,1083.1 549.4,1081.6 549,1081.1"/><path id="pat1" d="M1309.2,821.5 C1312.8,821.6 1323.6,822 1330.7,822.2 C1337.7,822.5 1344.6,822.8 1351.6,823.1 C1358.6,823.3 1365.6,823.6 1372.7,823.7 C1379.9,823.8 1387.2,823.8 1394.7,823.7 C1402.1,823.6 1409.8,823.3 1417.3,823 C1424.8,822.6 1432.4,822.1 1439.6,821.5 C1446.8,820.9 1453.8,820.2 1460.6,819.7 C1467.5,819.1 1474,818.4 1480.8,818 C1487.6,817.6 1494.3,817.2 1501.5,817.1 C1508.6,817 1516.2,817.1 1523.8,817.4 C1531.5,817.7 1539.6,818.2 1547.3,818.9 C1555,819.6 1566.2,821.1 1570,821.5 M1305.7,823.7 C1308.7,824 1317.8,824.7 1323.7,825.2 C1329.6,825.7 1335,826.2 1340.9,826.7 C1346.8,827.2 1352.6,827.7 1359,828 C1365.5,828.3 1372.3,828.6 1379.7,828.8 C1387.1,828.9 1395.2,828.9 1403.4,828.8 C1411.6,828.8 1420.5,828.5 1429,828.2 C1437.5,827.9 1446.3,827.5 1454.5,827.2 C1462.8,826.9 1470.9,826.5 1478.7,826.3 C1486.4,826.2 1493.9,826 1501,826.2 C1508.1,826.3 1515,826.7 1521.3,827.2 C1527.6,827.8 1533.6,828.6 1538.8,829.5 C1543.9,830.4 1550.1,832.2 1552.3,832.7 M1295.5,825.7 C1297.6,826.1 1304.1,827 1308.1,827.7 C1312.2,828.4 1315.6,829.1 1319.7,829.7 C1323.8,830.4 1327.8,831.1 1332.8,831.6 C1337.9,832.2 1343.4,832.7 1350,833 C1356.6,833.4 1364.2,833.7 1372.2,833.9 C1380.3,834.1 1389.5,834.2 1398.4,834.2 C1407.3,834.2 1416.8,834.1 1425.6,834.1 C1434.4,834.1 1443.3,834 1451.1,834.1 C1459,834.2 1466.4,834.4 1472.7,834.8 C1479,835.1 1484.5,835.7 1488.8,836.4 C1493.1,837.2 1496.2,838.1 1498.3,839.2 C1500.4,840.2 1500.8,842.1 1501.3,842.7 M1279.7,827.3 C1280.6,827.7 1283.8,828.8 1285.6,829.6 C1287.4,830.4 1288.4,831.1 1290.3,831.9 C1292.2,832.7 1293.9,833.4 1297,834.1 C1300.1,834.8 1303.8,835.5 1308.8,836.1 C1313.8,836.7 1320.1,837.2 1327.2,837.7 C1334.2,838.1 1342.7,838.5 1351,838.8 C1359.3,839.2 1368.7,839.4 1377,839.7 C1385.4,840 1394.1,840.2 1401.1,840.6 C1408.2,840.9 1414.8,841.3 1419.6,841.9 C1424.4,842.5 1427.9,843.2 1429.7,844 C1431.5,844.9 1431.5,845.9 1430.2,847 C1429,848 1423.6,849.8 1422.3,850.4 M1260,828.2 C1259.8,828.6 1259.2,829.8 1258.5,830.6 C1257.8,831.4 1256.4,832.2 1255.9,832.9 C1255.4,833.7 1254.7,834.5 1255.5,835.2 C1256.3,836 1257.7,836.8 1260.6,837.5 C1263.6,838.2 1267.8,839 1273.1,839.6 C1278.3,840.3 1285.2,841 1292,841.6 C1298.8,842.2 1307,842.7 1314,843.3 C1321,843.8 1328.6,844.3 1334.1,844.9 C1339.7,845.5 1344.8,846.1 1347.5,846.8 C1350.2,847.5 1351.4,848.3 1350.5,849.2 C1349.6,850.1 1346.4,851 1342,852 C1337.6,852.9 1327,854.5 1324,854.9 M1238.6,828.4 C1237.2,828.7 1233,829.9 1229.9,830.6 C1226.8,831.3 1223,832 1220.2,832.7 C1217.3,833.4 1214.3,834.1 1212.7,834.9 C1211.1,835.6 1210.1,836.4 1210.6,837.2 C1211.1,838 1213,838.8 1215.8,839.7 C1218.7,840.5 1223.3,841.3 1227.8,842.1 C1232.4,842.9 1238.5,843.7 1243.4,844.5 C1248.3,845.3 1253.9,846 1257.4,846.8 C1260.8,847.5 1263.7,848.3 1264.1,849 C1264.6,849.8 1263.3,850.6 1259.8,851.4 C1256.3,852.1 1250.3,852.9 1243.2,853.7 C1236.1,854.5 1221.4,855.5 1217.1,855.9 M1217.8,827.8 C1215.3,828.1 1208,829 1202.8,829.6 C1197.7,830.2 1192,830.7 1187,831.3 C1182.1,831.9 1177.1,832.4 1173.3,833.1 C1169.5,833.7 1166.2,834.4 1164.2,835.2 C1162.3,836 1161.5,836.8 1161.7,837.7 C1161.9,838.6 1163.6,839.5 1165.4,840.5 C1167.3,841.4 1170.6,842.3 1172.9,843.2 C1175.2,844.1 1178.2,845 1179.1,845.9 C1180.1,846.7 1180.6,847.5 1178.6,848.2 C1176.7,849 1173,849.7 1167.3,850.3 C1161.6,850.9 1153.5,851.5 1144.4,851.9 C1135.4,852.4 1118.3,852.9 1113,853.1 M1199.8,826.6 C1196.6,826.8 1186.8,827.4 1180.2,827.7 C1173.6,828.1 1166.5,828.4 1160.1,828.8 C1153.6,829.2 1147.1,829.5 1141.5,830 C1135.9,830.5 1130.7,831.1 1126.5,831.7 C1122.3,832.4 1118.9,833.2 1116.4,834 C1113.9,834.8 1112.6,835.8 1111.5,836.7 C1110.5,837.7 1110.7,838.7 1110.1,839.6 C1109.5,840.5 1109.6,841.5 1107.9,842.3 C1106.3,843.1 1104.3,843.9 1100.2,844.5 C1096.1,845.2 1090.5,845.7 1083.2,846.1 C1075.9,846.5 1066.5,846.7 1056.5,846.9 C1046.5,847 1028.8,846.9 1023.2,846.9 M1186.7,824.8 C1183,824.9 1171.9,825.1 1164.5,825.2 C1157.1,825.3 1149.5,825.4 1142.2,825.5 C1134.9,825.7 1127.7,825.8 1120.9,826.1 C1114.1,826.3 1107.5,826.7 1101.5,827.1 C1095.5,827.6 1089.9,828.2 1085,828.9 C1080,829.6 1075.8,830.5 1072,831.4 C1068.1,832.2 1065.2,833.2 1061.7,834 C1058.3,834.9 1055.5,835.8 1051.5,836.5 C1047.4,837.2 1043.2,837.9 1037.3,838.3 C1031.5,838.8 1024.6,839.1 1016.5,839.2 C1008.4,839.3 998.7,839.3 988.8,839 C979,838.8 962.5,838.1 957.3,837.9 M1179.7,822.6 C1176,822.6 1164.8,822.4 1157.4,822.3 C1150,822.1 1142.7,821.9 1135.4,821.8 C1128.1,821.7 1120.8,821.6 1113.6,821.6 C1106.4,821.6 1099.1,821.7 1091.9,821.9 C1084.8,822.2 1077.6,822.6 1070.8,823.1 C1064,823.6 1057.3,824.2 1051.1,824.9 C1044.8,825.6 1039,826.4 1033.2,827.1 C1027.3,827.8 1021.9,828.5 1015.9,829.1 C1009.8,829.6 1003.8,830.1 996.9,830.3 C990,830.6 982.4,830.6 974.4,830.4 C966.4,830.3 957.5,829.9 948.8,829.3 C940.2,828.8 926.8,827.5 922.4,827.2 M1179.7,820.4 C1176.4,820.2 1166.2,819.6 1159.7,819.3 C1153.1,818.9 1146.9,818.4 1140.3,818.1 C1133.8,817.7 1127.4,817.3 1120.4,817.1 C1113.5,816.9 1106.4,816.7 1098.8,816.7 C1091.3,816.7 1083.3,816.8 1075.3,817 C1067.4,817.3 1059,817.7 1051.1,818.1 C1043.1,818.5 1035.1,819.1 1027.5,819.5 C1019.8,820 1012.4,820.5 1005,820.8 C997.6,821.1 990.4,821.4 983.2,821.4 C976,821.3 968.6,821.1 961.6,820.7 C954.5,820.3 947.4,819.6 940.8,818.8 C934.3,817.9 925.5,816.3 922.4,815.8 M1186.7,818.2 C1184.1,817.9 1176.1,817.1 1171.1,816.5 C1166.1,815.9 1161.6,815.2 1156.5,814.7 C1151.4,814.1 1146.5,813.5 1140.7,813.1 C1134.8,812.6 1128.6,812.2 1121.5,812 C1114.4,811.7 1106.4,811.5 1098.2,811.5 C1089.9,811.4 1080.8,811.5 1072,811.6 C1063.1,811.8 1053.9,812 1045.2,812.2 C1036.6,812.4 1027.9,812.6 1020,812.6 C1012.1,812.7 1004.6,812.7 997.8,812.4 C991,812.1 984.7,811.7 979.3,811 C974,810.4 969.4,809.5 965.7,808.5 C962,807.5 958.7,805.6 957.3,805.1 M1199.8,816.4 C1198.3,816.1 1193.4,815 1190.4,814.3 C1187.5,813.5 1185.2,812.8 1182.2,812 C1179.1,811.3 1176.2,810.6 1172.1,810 C1168,809.4 1163.3,808.8 1157.4,808.3 C1151.5,807.8 1144.5,807.3 1136.8,807 C1129.2,806.7 1120.2,806.5 1111.5,806.3 C1102.8,806.1 1093.2,806 1084.5,805.9 C1075.8,805.7 1066.9,805.7 1059.3,805.4 C1051.8,805.2 1044.6,804.9 1039.1,804.4 C1033.5,803.9 1028.8,803.3 1025.8,802.5 C1022.7,801.7 1021.1,800.7 1020.7,799.6 C1020.3,798.6 1022.8,796.7 1023.2,796.1 M1217.8,815.2 C1217.4,814.8 1216.1,813.6 1215.6,812.8 C1215,812 1215.2,811.2 1214.5,810.4 C1213.8,809.7 1213.3,808.9 1211.3,808.1 C1209.3,807.4 1206.8,806.7 1202.7,806 C1198.7,805.3 1193.3,804.7 1187.1,804.1 C1180.9,803.5 1173.1,803 1165.4,802.5 C1157.8,802.1 1148.9,801.7 1141.1,801.2 C1133.3,800.8 1125.1,800.4 1118.6,800 C1112.2,799.5 1106.3,799 1102.5,798.3 C1098.7,797.7 1096.3,796.9 1095.9,796 C1095.4,795.2 1097,794.2 1099.9,793.1 C1102.8,792.1 1110.9,790.4 1113,789.9 M1238.6,814.6 C1239.5,814.2 1241.9,813.1 1243.8,812.3 C1245.7,811.5 1248.4,810.8 1250.1,810 C1251.8,809.3 1253.7,808.5 1254.1,807.7 C1254.5,807 1254.3,806.2 1252.5,805.4 C1250.7,804.7 1247.6,803.9 1243.5,803.1 C1239.4,802.3 1233.6,801.6 1227.8,800.9 C1222.1,800.2 1214.9,799.5 1208.8,798.8 C1202.8,798.1 1196.1,797.5 1191.5,796.8 C1187,796.1 1182.9,795.5 1181.3,794.7 C1179.7,794 1179.8,793.2 1182,792.3 C1184.2,791.5 1188.9,790.6 1194.7,789.7 C1200.6,788.9 1213.4,787.6 1217.1,787.1 M1260,814.8 C1262,814.5 1267.8,813.5 1272,812.8 C1276.2,812.1 1281,811.5 1285,810.8 C1288.9,810.2 1293,809.5 1295.7,808.8 C1298.5,808.1 1300.6,807.4 1301.4,806.6 C1302.1,805.8 1301.6,804.9 1300,804.1 C1298.5,803.2 1295.3,802.3 1292,801.4 C1288.7,800.6 1284,799.7 1280.3,798.8 C1276.7,798 1272.4,797.2 1270.1,796.4 C1267.9,795.5 1266.1,794.8 1266.9,794 C1267.7,793.2 1270.2,792.5 1274.9,791.8 C1279.5,791.1 1286.7,790.4 1294.9,789.8 C1303.1,789.1 1319.2,788.3 1324,788.1 M1279.7,815.7 C1282.6,815.5 1291.3,814.7 1297.2,814.2 C1303.2,813.7 1309.7,813.3 1315.4,812.8 C1321.2,812.3 1327,811.9 1331.8,811.3 C1336.6,810.7 1340.9,810.1 1344,809.4 C1347.1,808.6 1349.3,807.8 1350.4,806.9 C1351.6,806.1 1351.4,805.1 1351,804.2 C1350.6,803.2 1348.8,802.2 1347.9,801.3 C1347.1,800.4 1345.5,799.4 1345.9,798.6 C1346.2,797.8 1347,797 1350,796.3 C1353.1,795.6 1357.8,795 1364.4,794.4 C1371,793.9 1379.9,793.5 1389.5,793.2 C1399.2,792.9 1416.8,792.7 1422.3,792.6 M1295.5,817.3 C1299,817.1 1309.5,816.7 1316.7,816.4 C1323.8,816.2 1331.2,816 1338.2,815.8 C1345.1,815.5 1352.1,815.2 1358.3,814.9 C1364.6,814.5 1370.7,814 1375.8,813.5 C1381,812.9 1385.5,812.2 1389.3,811.4 C1393.1,810.6 1395.9,809.7 1398.4,808.8 C1400.9,807.9 1402.3,806.9 1404.3,806 C1406.3,805.1 1407.7,804.1 1410.6,803.4 C1413.5,802.6 1416.6,801.8 1421.7,801.3 C1426.7,800.7 1433.1,800.3 1440.9,800.1 C1448.6,799.8 1458.3,799.7 1468.4,799.8 C1478.5,799.8 1495.8,800.2 1501.3,800.3 M1305.7,819.3 C1309.4,819.3 1320.7,819.2 1328.2,819.2 C1335.7,819.2 1343.3,819.3 1350.7,819.3 C1358,819.3 1365.4,819.3 1372.5,819.2 C1379.6,819 1386.7,818.8 1393.3,818.4 C1400,818.1 1406.5,817.5 1412.4,816.9 C1418.4,816.3 1423.9,815.5 1429,814.8 C1434.1,814 1438.6,813.1 1443.3,812.3 C1448,811.5 1452.1,810.7 1457.2,810.1 C1462.4,809.4 1467.6,808.8 1474,808.5 C1480.5,808.1 1487.8,808 1496,808 C1504.1,808 1513.6,808.3 1523,808.6 C1532.4,809 1547.4,810 1552.3,810.3 M1383.3,825.4 C1382.2,825.3 1378.5,825.4 1376.3,825.3 C1374,825.2 1371.3,825 1369.6,824.8 C1367.8,824.6 1366.1,824.3 1365.6,823.9 C1365,823.6 1365,823.2 1366.1,822.8 C1367.2,822.5 1369.4,822.1 1372.2,821.8 C1375,821.5 1378.9,821.3 1383,821.2 C1387,821.1 1392.1,821 1396.5,821.1 C1400.9,821.3 1405.8,821.5 1409.5,821.8 C1413.1,822.2 1416.6,822.7 1418.4,823.2 C1420.2,823.7 1421.1,824.4 1420.3,825 C1419.6,825.6 1417.3,826.2 1413.9,826.7 C1410.4,827.2 1405.1,827.7 1399.5,828 C1393.9,828.3 1386.6,828.5 1380,828.5 C1373.3,828.5 1365.7,828.3 1359.6,827.9 C1353.5,827.6 1347.3,827 1343.3,826.3 C1339.3,825.7 1336.3,824.8 1335.6,824 C1334.9,823.2 1338.6,821.9 1339.2,821.5 M1363.9,829.9 C1362.9,829.9 1359.3,829.8 1357.4,829.6 C1355.6,829.5 1353.6,829.2 1352.6,828.9 C1351.6,828.7 1351.1,828.3 1351.5,828 C1352,827.6 1353.3,827.3 1355.4,827 C1357.5,826.7 1360.7,826.4 1364.2,826.2 C1367.7,826 1372.3,825.9 1376.5,826 C1380.6,826 1385.5,826.1 1389.3,826.4 C1393.2,826.7 1397,827.1 1399.4,827.5 C1401.8,828 1403.6,828.6 1403.7,829.1 C1403.8,829.7 1402.7,830.3 1400.1,830.8 C1397.6,831.4 1393.5,831.9 1388.6,832.3 C1383.7,832.6 1377.3,832.9 1371,833 C1364.8,833.1 1357.4,833 1351.1,832.8 C1344.9,832.6 1338.3,832.1 1333.6,831.6 C1329,831 1324.9,830.2 1323.1,829.5 C1321.4,828.7 1321.1,827.8 1323,827 C1324.8,826.2 1332.3,825.1 1334.2,824.7 M1331.6,833.6 C1330.7,833.5 1327.6,833.3 1326.3,833.1 C1325.1,832.9 1324,832.6 1323.9,832.3 C1323.8,832 1324.4,831.6 1325.9,831.3 C1327.3,831 1329.7,830.7 1332.6,830.5 C1335.5,830.3 1339.5,830.1 1343.3,830.1 C1347.1,830 1351.7,830.1 1355.6,830.3 C1359.4,830.4 1363.6,830.8 1366.4,831.1 C1369.2,831.5 1371.7,832 1372.6,832.5 C1373.5,833 1373.3,833.7 1371.7,834.2 C1370.1,834.7 1367,835.3 1363,835.7 C1359,836.1 1353.4,836.5 1347.7,836.7 C1342,836.8 1334.9,836.9 1328.8,836.8 C1322.6,836.6 1315.8,836.3 1310.6,835.9 C1305.5,835.4 1300.6,834.8 1297.9,834.1 C1295.2,833.4 1293.7,832.5 1294.4,831.8 C1295,831 1297.6,830.1 1301.8,829.4 C1305.9,828.7 1316.5,827.9 1319.4,827.7 M1289.7,836 C1289.1,835.8 1286.8,835.5 1286.3,835.3 C1285.8,835 1285.7,834.7 1286.6,834.4 C1287.4,834.1 1289,833.8 1291.3,833.6 C1293.6,833.4 1296.9,833.1 1300.2,833.1 C1303.6,833 1307.9,832.9 1311.6,833 C1315.3,833.1 1319.5,833.3 1322.6,833.6 C1325.7,833.9 1328.7,834.4 1330.2,834.8 C1331.8,835.3 1332.5,835.8 1331.8,836.3 C1331,836.9 1329,837.4 1325.9,837.9 C1322.7,838.3 1318,838.8 1313,839 C1307.9,839.3 1301.5,839.4 1295.5,839.4 C1289.6,839.4 1282.8,839.2 1277.3,838.9 C1271.9,838.5 1266.4,838 1262.9,837.4 C1259.5,836.8 1256.9,836 1256.4,835.3 C1255.9,834.5 1257.1,833.7 1260.1,832.9 C1263.1,832.2 1268.3,831.5 1274.3,831 C1280.4,830.5 1292.8,830.1 1296.5,829.9 M1242.8,836.7 C1242.7,836.6 1241.4,836.3 1241.7,836 C1242,835.7 1242.9,835.4 1244.6,835.2 C1246.2,835 1248.8,834.7 1251.6,834.6 C1254.5,834.4 1258.3,834.3 1261.7,834.4 C1265.2,834.4 1269.3,834.5 1272.6,834.7 C1275.8,834.9 1279.1,835.3 1281.1,835.7 C1283.2,836.1 1284.7,836.6 1284.7,837.1 C1284.8,837.5 1283.7,838.1 1281.4,838.6 C1279.2,839 1275.5,839.5 1271.2,839.8 C1266.8,840.1 1261.1,840.4 1255.5,840.4 C1249.9,840.5 1243.3,840.4 1237.8,840.2 C1232.3,840 1226.4,839.6 1222.3,839.1 C1218.2,838.6 1214.7,837.9 1213.2,837.2 C1211.7,836.5 1211.7,835.7 1213.5,834.9 C1215.3,834.2 1219.1,833.4 1224.1,832.9 C1229.2,832.3 1236.3,831.8 1243.6,831.5 C1250.8,831.2 1263.8,831.3 1267.8,831.3 M1196.1,835.9 C1196.3,835.8 1196.3,835.4 1197.3,835.1 C1198.4,834.9 1200.2,834.6 1202.5,834.5 C1204.8,834.3 1208,834.2 1211.1,834.1 C1214.3,834.1 1218.1,834.1 1221.3,834.3 C1224.5,834.4 1228,834.7 1230.4,835 C1232.8,835.3 1234.9,835.7 1235.6,836.2 C1236.4,836.6 1236.2,837.2 1234.8,837.6 C1233.4,838.1 1230.6,838.6 1227.1,838.9 C1223.5,839.3 1218.6,839.6 1213.5,839.8 C1208.4,839.9 1202.2,839.9 1196.8,839.8 C1191.3,839.7 1185.2,839.4 1180.7,839 C1176.2,838.6 1171.9,838 1169.6,837.4 C1167.3,836.7 1166.1,836 1166.8,835.3 C1167.5,834.6 1170,833.8 1173.9,833.2 C1177.9,832.5 1183.8,831.9 1190.3,831.6 C1196.8,831.2 1205.1,831 1212.9,831 C1220.6,831 1232.6,831.4 1236.6,831.5 M1154.6,833.5 C1155.2,833.3 1156.3,833 1158,832.8 C1159.8,832.6 1162.3,832.4 1165,832.3 C1167.7,832.3 1171.1,832.2 1174.2,832.3 C1177.3,832.4 1180.8,832.6 1183.4,832.8 C1186,833 1188.5,833.4 1189.8,833.8 C1191.1,834.2 1191.7,834.7 1191,835.1 C1190.4,835.5 1188.6,836 1185.8,836.4 C1183.1,836.8 1179,837.2 1174.5,837.4 C1170.1,837.6 1164.4,837.7 1159.2,837.7 C1153.9,837.7 1147.9,837.5 1143.1,837.2 C1138.4,836.9 1133.5,836.4 1130.5,835.9 C1127.5,835.3 1125.3,834.6 1125,833.9 C1124.7,833.3 1125.9,832.5 1128.7,831.9 C1131.6,831.2 1136.4,830.6 1141.9,830.1 C1147.5,829.7 1155,829.3 1162.3,829.2 C1169.6,829.1 1178.2,829.1 1185.5,829.4 C1192.8,829.6 1202.7,830.5 1206.2,830.7 M1122.8,829.7 C1123.7,829.7 1125.8,829.3 1128,829.2 C1130.2,829.1 1133.2,829 1136,829 C1138.8,829.1 1142.2,829.1 1144.8,829.3 C1147.5,829.5 1150.3,829.8 1152,830.1 C1153.7,830.4 1155,830.9 1155,831.3 C1155,831.7 1154.1,832.2 1152.2,832.5 C1150.2,832.9 1147,833.3 1143.2,833.6 C1139.4,833.9 1134.4,834.1 1129.5,834.1 C1124.7,834.2 1118.8,834.1 1114,833.9 C1109.1,833.7 1104,833.3 1100.4,832.9 C1096.9,832.4 1093.8,831.8 1092.6,831.2 C1091.4,830.6 1091.5,829.8 1093.2,829.2 C1095,828.5 1098.6,827.8 1103.2,827.3 C1107.8,826.8 1114.4,826.4 1121,826.1 C1127.7,825.9 1135.9,825.8 1143.2,826 C1150.4,826.1 1158.4,826.4 1164.5,826.9 C1170.7,827.4 1177.3,828.6 1179.9,828.9 M1104.1,825.1 C1105.2,825.1 1108.2,824.9 1110.6,824.8 C1113.1,824.8 1116.1,824.8 1118.7,824.9 C1121.3,825 1124.2,825.2 1126.2,825.5 C1128.2,825.8 1130,826.1 1130.6,826.5 C1131.2,826.8 1131.1,827.3 1129.9,827.7 C1128.6,828.1 1126.3,828.5 1123.3,828.8 C1120.2,829.1 1115.9,829.4 1111.5,829.5 C1107.1,829.6 1101.7,829.6 1096.9,829.5 C1092.2,829.4 1086.9,829.1 1082.9,828.8 C1079,828.4 1075.3,827.9 1073.3,827.3 C1071.3,826.8 1070.3,826.1 1071.1,825.5 C1071.9,824.8 1074.2,824.1 1077.8,823.6 C1081.5,823 1087,822.5 1092.9,822.2 C1098.8,821.9 1106.4,821.7 1113.4,821.7 C1120.4,821.7 1128.5,821.9 1134.9,822.3 C1141.4,822.6 1147.9,823.2 1152.2,823.9 C1156.4,824.6 1159.1,825.9 1160.5,826.3 M1100.6,820.1 C1101.7,820.1 1105.2,820 1107.7,820.1 C1110.1,820.1 1112.9,820.2 1115,820.4 C1117.1,820.6 1119.3,820.9 1120.3,821.2 C1121.4,821.5 1122,821.9 1121.4,822.3 C1120.9,822.7 1119.4,823.1 1117.1,823.4 C1114.8,823.7 1111.3,824.1 1107.4,824.2 C1103.6,824.4 1098.7,824.5 1094.1,824.5 C1089.6,824.5 1084.4,824.3 1080.2,824 C1076.1,823.8 1071.9,823.3 1069.3,822.9 C1066.7,822.4 1064.8,821.7 1064.7,821.1 C1064.5,820.6 1065.7,819.9 1068.3,819.3 C1071,818.7 1075.3,818.2 1080.5,817.8 C1085.6,817.4 1092.4,817.1 1099,817 C1105.6,816.9 1113.4,816.9 1120,817.2 C1126.6,817.4 1133.6,817.9 1138.5,818.5 C1143.5,819 1147.8,819.8 1149.7,820.6 C1151.7,821.4 1150.1,822.8 1150.2,823.2 M1112.6,815.3 C1113.7,815.3 1117.3,815.3 1119.5,815.5 C1121.6,815.6 1123.9,815.8 1125.3,816.1 C1126.7,816.3 1127.8,816.7 1127.9,817 C1127.9,817.3 1127.2,817.7 1125.6,818.1 C1124,818.4 1121.3,818.7 1118.1,819 C1114.9,819.2 1110.6,819.4 1106.4,819.4 C1102.2,819.4 1097.2,819.4 1093,819.2 C1088.9,819 1084.4,818.7 1081.3,818.3 C1078.3,817.9 1075.6,817.3 1074.6,816.8 C1073.7,816.2 1073.8,815.6 1075.5,815 C1077.1,814.4 1080.4,813.8 1084.6,813.4 C1088.8,812.9 1094.8,812.5 1100.8,812.3 C1106.8,812.1 1114.2,812.1 1120.8,812.2 C1127.3,812.4 1134.5,812.7 1140,813.1 C1145.4,813.6 1150.6,814.3 1153.5,815 C1156.5,815.7 1158.1,816.6 1157.5,817.4 C1156.9,818.2 1151.3,819.5 1150,819.9 M1138.8,811.1 C1139.8,811.2 1143.2,811.3 1144.8,811.5 C1146.4,811.7 1147.9,812 1148.4,812.3 C1149,812.6 1149,812.9 1148,813.2 C1147,813.6 1145.1,813.9 1142.6,814.2 C1140,814.4 1136.4,814.7 1132.7,814.8 C1129,814.9 1124.4,814.9 1120.3,814.8 C1116.2,814.7 1111.7,814.5 1108.3,814.1 C1104.9,813.8 1101.7,813.3 1100,812.9 C1098.4,812.4 1097.6,811.8 1098.3,811.2 C1099.1,810.7 1101.2,810 1104.5,809.6 C1107.8,809.1 1112.8,808.6 1118.1,808.3 C1123.5,808.1 1130.3,807.9 1136.6,807.9 C1142.9,807.9 1150.2,808.1 1155.9,808.5 C1161.7,808.8 1167.5,809.4 1171.2,810 C1175,810.7 1177.8,811.5 1178.4,812.2 C1178.9,813 1177.7,813.9 1174.7,814.7 C1171.6,815.4 1162.5,816.4 1160.1,816.7 M1176.5,808 C1177.2,808.1 1179.9,808.4 1180.8,808.6 C1181.7,808.9 1182.3,809.2 1181.9,809.5 C1181.5,809.8 1180.4,810.1 1178.5,810.4 C1176.6,810.7 1173.8,810.9 1170.6,811.1 C1167.4,811.2 1163.2,811.3 1159.4,811.3 C1155.6,811.3 1151.1,811.1 1147.6,810.9 C1144,810.7 1140.4,810.3 1138.2,809.9 C1136,809.4 1134.4,808.9 1134.3,808.4 C1134.3,807.9 1135.4,807.3 1137.8,806.8 C1140.2,806.3 1144.1,805.8 1148.7,805.4 C1153.3,805.1 1159.4,804.8 1165.3,804.7 C1171.2,804.7 1178.2,804.7 1184.1,805 C1190,805.2 1196.2,805.6 1200.6,806.2 C1205,806.7 1208.8,807.4 1210.4,808.1 C1212,808.9 1212.1,809.7 1210.3,810.5 C1208.5,811.2 1204.5,812.1 1199.3,812.7 C1194.2,813.3 1182.5,813.9 1179.2,814.1 M1221.4,806.4 C1221.8,806.6 1223.6,806.9 1223.7,807.2 C1223.8,807.4 1223.4,807.7 1222.1,808 C1220.9,808.3 1218.7,808.6 1216.1,808.7 C1213.5,808.9 1210,809.1 1206.5,809.1 C1203,809.2 1198.8,809.1 1195.3,809 C1191.7,808.8 1187.9,808.5 1185.3,808.2 C1182.7,807.8 1180.4,807.3 1179.6,806.9 C1178.9,806.4 1179,805.8 1180.5,805.3 C1182,804.8 1185,804.3 1188.7,803.9 C1192.5,803.5 1197.8,803.2 1203.2,803 C1208.6,802.9 1215.2,802.8 1221,802.9 C1226.8,803.1 1233.3,803.4 1238.1,803.8 C1242.9,804.2 1247.5,804.9 1250,805.5 C1252.5,806.2 1253.9,807 1253.2,807.7 C1252.5,808.5 1249.9,809.3 1245.9,809.9 C1241.8,810.6 1235.6,811.2 1228.9,811.6 C1222.1,812 1209.3,812.2 1205.3,812.3 M1268.8,806.5 C1268.8,806.6 1269.5,807 1268.8,807.2 C1268.1,807.5 1266.7,807.8 1264.7,808 C1262.7,808.2 1259.8,808.4 1256.8,808.5 C1253.7,808.6 1249.9,808.6 1246.5,808.5 C1243.1,808.4 1239.2,808.2 1236.4,808 C1233.6,807.7 1230.8,807.3 1229.4,806.9 C1228,806.5 1227.3,805.9 1228,805.4 C1228.7,805 1230.7,804.4 1233.6,804 C1236.5,803.6 1240.9,803.2 1245.7,803 C1250.5,802.7 1256.5,802.6 1262.1,802.6 C1267.7,802.6 1274.1,802.8 1279.2,803.2 C1284.3,803.5 1289.5,804 1292.7,804.6 C1296,805.1 1298.4,805.9 1298.8,806.6 C1299.1,807.3 1297.9,808.1 1295,808.8 C1292.1,809.5 1287.1,810.1 1281.3,810.6 C1275.4,811.1 1267.6,811.5 1260,811.6 C1252.4,811.8 1239.7,811.5 1235.7,811.5 M1313.6,808.2 C1313.2,808.3 1312.6,808.7 1311.2,808.9 C1309.8,809.1 1307.6,809.3 1305.1,809.4 C1302.5,809.6 1299.2,809.6 1296,809.6 C1292.9,809.6 1289.2,809.5 1286.2,809.3 C1283.3,809.1 1280.2,808.8 1278.4,808.4 C1276.5,808.1 1275.1,807.6 1275.1,807.2 C1275.1,806.7 1276,806.2 1278.2,805.8 C1280.3,805.3 1283.7,804.9 1287.8,804.6 C1291.8,804.3 1297.3,804.1 1302.5,804 C1307.7,804 1313.9,804 1319.1,804.3 C1324.3,804.5 1329.8,804.9 1333.6,805.4 C1337.4,805.8 1340.7,806.5 1342.1,807.2 C1343.4,807.8 1343.4,808.6 1341.6,809.3 C1339.8,809.9 1336.1,810.7 1331.3,811.2 C1326.4,811.8 1319.6,812.2 1312.6,812.5 C1305.6,812.7 1297,812.8 1289.4,812.7 C1281.8,812.6 1270.7,811.9 1266.9,811.7 M1350.7,811.3 C1350,811.4 1348.3,811.7 1346.4,811.9 C1344.4,812 1341.6,812.1 1338.8,812.2 C1336,812.2 1332.6,812.2 1329.6,812.1 C1326.7,811.9 1323.5,811.7 1321.4,811.4 C1319.2,811.1 1317.3,810.7 1316.6,810.3 C1315.9,809.9 1316.1,809.4 1317.4,809 C1318.7,808.6 1321.3,808.1 1324.6,807.8 C1327.9,807.5 1332.5,807.2 1337.2,807 C1342,806.9 1347.8,806.9 1352.9,807 C1358,807.1 1363.7,807.4 1367.9,807.8 C1372.1,808.2 1376.1,808.7 1378.3,809.3 C1380.4,809.9 1381.5,810.6 1380.8,811.3 C1380,812 1377.6,812.7 1373.8,813.3 C1370,813.9 1364.3,814.4 1358.1,814.8 C1351.9,815.1 1343.9,815.3 1336.5,815.3 C1329.2,815.3 1320.7,815.1 1313.9,814.8 C1307.1,814.4 1298.7,813.3 1295.7,813 M1376.4,815.5 C1375.4,815.6 1372.7,815.8 1370.4,815.9 C1368,816 1365,816 1362.2,815.9 C1359.5,815.9 1356.3,815.7 1354,815.5 C1351.6,815.3 1349.3,815 1348.1,814.6 C1347,814.3 1346.4,813.8 1347,813.4 C1347.6,813 1349.2,812.6 1351.8,812.2 C1354.3,811.9 1358.1,811.5 1362.3,811.3 C1366.4,811.1 1371.7,811 1376.6,811 C1381.5,811.1 1387.1,811.2 1391.5,811.5 C1396,811.8 1400.5,812.3 1403.3,812.8 C1406.1,813.3 1408.2,814 1408.4,814.6 C1408.6,815.2 1407.4,816 1404.7,816.6 C1401.9,817.2 1397.3,817.8 1392,818.2 C1386.6,818.6 1379.5,818.9 1372.5,819.1 C1365.6,819.2 1357.4,819.1 1350.4,818.9 C1343.5,818.6 1336.1,818.1 1330.8,817.5 C1325.6,816.9 1320.8,815.6 1318.9,815.3 M1387.6,820.4 C1386.5,820.4 1383.2,820.6 1380.7,820.5 C1378.3,820.5 1375.3,820.5 1372.9,820.3 C1370.5,820.2 1367.9,819.9 1366.4,819.6 C1364.9,819.3 1363.7,818.9 1363.6,818.6 C1363.6,818.2 1364.4,817.8 1366.2,817.4 C1368,817 1370.9,816.7 1374.4,816.4 C1377.9,816.2 1382.6,816 1387.1,815.9 C1391.6,815.9 1397.1,815.9 1401.6,816.1 C1406.1,816.3 1410.9,816.7 1414.2,817.1 C1417.5,817.6 1420.4,818.1 1421.4,818.7 C1422.5,819.3 1422.4,820 1420.7,820.6 C1419,821.2 1415.6,821.9 1411.1,822.3 C1406.7,822.8 1400.5,823.2 1394.1,823.5 C1387.8,823.7 1379.9,823.7 1373.1,823.6 C1366.2,823.5 1358.6,823.1 1352.8,822.7 C1347,822.2 1341.5,821.5 1338.3,820.7 C1335.2,820 1334.6,818.6 1333.9,818.2 M1485.6,829.6 C1484.2,829.6 1479.8,829.6 1477.2,829.5 C1474.5,829.3 1471.5,829.1 1469.6,828.8 C1467.7,828.5 1466,828.1 1465.6,827.7 C1465.2,827.3 1465.7,826.8 1467.3,826.4 C1469,826 1471.8,825.6 1475.4,825.3 C1479,825 1484,824.7 1489,824.6 C1493.9,824.5 1500,824.5 1505.2,824.7 C1510.3,824.9 1516,825.2 1520,825.7 C1524.1,826.1 1527.8,826.8 1529.5,827.4 C1531.2,828 1531.7,828.8 1530.2,829.5 C1528.8,830.2 1525.5,831 1520.9,831.6 C1516.2,832.1 1509.5,832.7 1502.5,833 C1495.5,833.3 1486.7,833.4 1478.7,833.3 C1470.8,833.3 1461.9,832.9 1454.9,832.4 C1447.9,831.9 1441.1,831.2 1436.9,830.4 C1432.7,829.5 1429.8,828.5 1429.8,827.5 C1429.7,826.5 1435.3,825 1436.4,824.5 M1447.6,837.5 C1446.4,837.4 1442.2,837.3 1440.1,837 C1438,836.8 1435.9,836.5 1435,836.2 C1434.1,835.8 1433.7,835.4 1434.6,835 C1435.4,834.6 1437.3,834.2 1440.1,833.8 C1442.9,833.5 1447,833.2 1451.4,833 C1455.7,832.8 1461.2,832.8 1466.2,832.8 C1471.2,832.9 1476.8,833.2 1481.2,833.5 C1485.5,833.8 1489.8,834.4 1492.3,834.9 C1494.7,835.5 1496.3,836.2 1495.9,836.9 C1495.6,837.5 1493.6,838.3 1490.1,838.9 C1486.6,839.5 1481.1,840.1 1475,840.5 C1468.9,840.9 1460.8,841.2 1453.3,841.2 C1445.7,841.3 1436.9,841.1 1429.7,840.8 C1422.5,840.4 1415,839.8 1409.9,839.1 C1404.8,838.4 1400.7,837.4 1399.2,836.5 C1397.8,835.6 1398.4,834.5 1401.3,833.6 C1404.2,832.6 1414.2,831.4 1416.8,830.9 M1387.6,843.6 C1386.6,843.5 1383.1,843.2 1381.8,842.9 C1380.5,842.7 1379.5,842.3 1379.7,841.9 C1379.8,841.6 1380.9,841.1 1382.9,840.8 C1384.9,840.5 1388,840.1 1391.7,839.9 C1395.4,839.7 1400.2,839.5 1404.8,839.5 C1409.4,839.5 1414.9,839.6 1419.4,839.9 C1423.8,840.1 1428.5,840.5 1431.5,841 C1434.6,841.5 1437,842.1 1437.6,842.7 C1438.2,843.4 1437.5,844.1 1435.1,844.7 C1432.7,845.3 1428.5,846 1423.3,846.4 C1418.2,846.9 1411.1,847.3 1404.1,847.4 C1397.1,847.6 1388.7,847.6 1381.4,847.4 C1374.1,847.1 1366.3,846.7 1360.5,846.1 C1354.8,845.5 1349.5,844.7 1346.9,843.8 C1344.3,843 1343.3,842 1344.8,841 C1346.2,840.1 1350.1,839.1 1355.7,838.3 C1361.4,837.5 1374.7,836.7 1378.5,836.4 M1312,847.3 C1311.4,847.2 1309,846.8 1308.6,846.5 C1308.2,846.2 1308.4,845.8 1309.6,845.5 C1310.9,845.2 1313.2,844.8 1316.1,844.5 C1319,844.3 1323.1,844.1 1327.3,844 C1331.4,843.9 1336.5,843.9 1340.9,844.1 C1345.2,844.2 1350.1,844.5 1353.5,844.9 C1357,845.3 1360.1,845.8 1361.5,846.4 C1363,846.9 1363.3,847.6 1362,848.2 C1360.6,848.8 1357.7,849.5 1353.5,850 C1349.4,850.5 1343.4,851 1337.1,851.2 C1330.8,851.5 1322.9,851.6 1315.9,851.5 C1308.8,851.4 1300.8,851.1 1294.6,850.7 C1288.4,850.2 1282.4,849.5 1278.7,848.8 C1275.1,848 1272.7,847.1 1272.8,846.2 C1272.9,845.3 1275.2,844.3 1279.4,843.4 C1283.6,842.6 1290.4,841.8 1298.1,841.2 C1305.8,840.7 1321,840.4 1325.6,840.2 M1229,848.3 C1228.9,848.1 1227.7,847.7 1228.3,847.4 C1228.9,847.1 1230.3,846.7 1232.5,846.4 C1234.7,846.2 1238,845.9 1241.5,845.8 C1245.1,845.6 1249.6,845.5 1253.8,845.6 C1257.9,845.7 1262.7,845.9 1266.4,846.2 C1270.1,846.5 1273.7,846.9 1275.8,847.4 C1277.9,847.9 1279.2,848.5 1278.8,849.1 C1278.4,849.7 1276.7,850.3 1273.6,850.8 C1270.4,851.4 1265.6,851.9 1260.1,852.2 C1254.6,852.6 1247.5,852.8 1240.8,852.8 C1234.1,852.9 1226.2,852.7 1219.8,852.4 C1213.4,852 1206.8,851.5 1202.3,850.8 C1197.9,850.2 1194.3,849.3 1193.2,848.5 C1192,847.7 1192.7,846.7 1195.6,845.8 C1198.4,845 1203.7,844.1 1210.2,843.5 C1216.7,842.8 1225.7,842.3 1234.6,842 C1243.6,841.8 1259,842 1263.9,842 M1147.7,846.3 C1148,846.2 1148.3,845.7 1149.8,845.4 C1151.3,845.2 1153.7,844.9 1156.6,844.7 C1159.5,844.5 1163.4,844.4 1167.2,844.4 C1171,844.4 1175.6,844.4 1179.3,844.6 C1183,844.9 1186.9,845.2 1189.5,845.6 C1192.1,846 1194.2,846.6 1194.6,847.1 C1195.1,847.6 1194.4,848.2 1192.3,848.8 C1190.2,849.3 1186.5,849.9 1181.9,850.3 C1177.4,850.7 1171.1,851 1164.9,851.1 C1158.8,851.2 1151.3,851.2 1144.8,851 C1138.4,850.8 1131.5,850.4 1126.4,849.9 C1121.4,849.3 1116.8,848.6 1114.6,847.8 C1112.4,847.1 1111.6,846.1 1113.1,845.3 C1114.6,844.4 1118.3,843.5 1123.6,842.8 C1128.8,842.1 1136.5,841.5 1144.6,841.1 C1152.7,840.7 1162.9,840.5 1172.1,840.6 C1181.4,840.7 1195.3,841.4 1200,841.5 M1076.8,841.7 C1077.6,841.5 1079.2,841.1 1081.5,840.9 C1083.7,840.7 1086.9,840.5 1090.2,840.4 C1093.5,840.4 1097.6,840.4 1101.2,840.5 C1104.8,840.6 1108.9,840.8 1111.8,841.2 C1114.6,841.5 1117.3,841.9 1118.5,842.4 C1119.7,842.9 1120,843.5 1118.8,844 C1117.6,844.5 1115.1,845.1 1111.4,845.5 C1107.8,846 1102.5,846.4 1097,846.6 C1091.5,846.8 1084.6,846.9 1078.3,846.8 C1072.1,846.7 1065.1,846.4 1059.6,846 C1054.2,845.6 1048.9,845 1045.8,844.3 C1042.6,843.6 1040.6,842.7 1040.9,841.9 C1041.1,841.1 1043.3,840.2 1047.3,839.5 C1051.2,838.8 1057.5,838 1064.6,837.5 C1071.7,837.1 1081,836.7 1089.8,836.6 C1098.6,836.6 1108.9,836.7 1117.4,837.1 C1125.9,837.5 1137,838.6 1140.9,838.9 M1024,834.8 C1025.1,834.7 1028,834.4 1030.7,834.3 C1033.5,834.1 1037.1,834.1 1040.4,834.1 C1043.8,834.2 1047.7,834.3 1050.7,834.6 C1053.7,834.8 1056.8,835.2 1058.6,835.6 C1060.3,836 1061.5,836.5 1061.1,837 C1060.8,837.5 1059.3,838 1056.6,838.5 C1053.9,838.9 1049.7,839.4 1044.9,839.7 C1040.1,839.9 1033.9,840.2 1028,840.2 C1022.2,840.2 1015.3,840 1009.7,839.7 C1004.1,839.4 998.2,838.9 994.4,838.4 C990.5,837.8 987.4,837 986.6,836.2 C985.7,835.5 986.4,834.6 989.1,833.9 C991.8,833.1 996.7,832.3 1002.7,831.8 C1008.7,831.2 1016.9,830.7 1025.1,830.5 C1033.3,830.3 1043.2,830.3 1051.8,830.5 C1060.3,830.7 1069.6,831.2 1076.5,831.9 C1083.3,832.6 1090.2,834 1093,834.5 M995.1,826.5 C996.4,826.5 1000.2,826.3 1003.1,826.2 C1006.1,826.2 1009.7,826.3 1012.7,826.4 C1015.7,826.6 1019,826.9 1021.2,827.2 C1023.3,827.5 1025.1,828 1025.5,828.4 C1025.9,828.9 1025.4,829.4 1023.6,829.9 C1021.7,830.3 1018.6,830.8 1014.6,831.1 C1010.7,831.4 1005.3,831.7 999.9,831.8 C994.6,831.9 988.1,831.9 982.5,831.7 C976.9,831.5 970.8,831.2 966.4,830.7 C962,830.2 958.1,829.5 956.2,828.9 C954.4,828.2 953.8,827.3 955.3,826.6 C956.7,825.9 960.2,825 965,824.4 C969.9,823.8 976.9,823.2 984.3,822.9 C991.7,822.6 1001,822.4 1009.3,822.5 C1017.7,822.6 1027.1,822.9 1034.5,823.4 C1041.9,823.9 1049.2,824.7 1053.6,825.6 C1058.1,826.4 1060.1,828.1 1061.4,828.6 M993.1,817.7 C994.5,817.7 998.8,817.6 1001.6,817.7 C1004.5,817.8 1007.7,818 1010.1,818.2 C1012.5,818.5 1014.7,818.9 1015.7,819.2 C1016.7,819.6 1017.1,820.1 1016.1,820.5 C1015.1,821 1013,821.5 1009.9,821.8 C1006.8,822.2 1002.3,822.5 997.6,822.7 C992.8,822.9 986.8,823 981.4,822.9 C976,822.8 969.9,822.6 965.2,822.2 C960.5,821.8 955.9,821.3 953.2,820.7 C950.6,820.1 948.9,819.3 949.2,818.6 C949.6,817.9 951.6,817.1 955.3,816.4 C958.9,815.8 964.7,815.1 971.2,814.7 C977.6,814.3 986.1,814 994.1,813.9 C1002,813.9 1011.3,814 1019,814.4 C1026.6,814.8 1034.6,815.4 1040,816.1 C1045.4,816.9 1049.8,817.9 1051.4,818.8 C1053,819.8 1049.9,821.4 1049.6,821.9 M1018.3,809.3 C1019.7,809.3 1024,809.4 1026.4,809.6 C1028.8,809.8 1031.4,810 1032.8,810.4 C1034.3,810.7 1035.3,811.1 1035.1,811.5 C1034.8,811.9 1033.6,812.4 1031.4,812.8 C1029.1,813.1 1025.6,813.5 1021.6,813.8 C1017.5,814 1012.2,814.2 1007.2,814.2 C1002.2,814.2 996.2,814.1 991.4,813.8 C986.6,813.5 981.5,813.1 978.2,812.6 C974.9,812.1 972.2,811.4 971.6,810.7 C970.9,810.1 971.7,809.3 974.2,808.6 C976.7,807.9 981.1,807.2 986.6,806.8 C992,806.3 999.5,805.8 1006.9,805.7 C1014.2,805.5 1023.2,805.5 1030.9,805.7 C1038.6,806 1046.9,806.4 1053,807 C1059.1,807.6 1064.7,808.5 1067.5,809.4 C1070.4,810.3 1071.6,811.4 1070.1,812.3 C1068.7,813.3 1060.8,814.7 1058.9,815.2 M1068,802.2 C1069.1,802.3 1073,802.5 1074.7,802.8 C1076.5,803 1078,803.4 1078.4,803.7 C1078.8,804.1 1078.5,804.5 1077,804.9 C1075.6,805.2 1073,805.7 1069.7,805.9 C1066.4,806.2 1061.9,806.5 1057.4,806.5 C1052.8,806.6 1047.2,806.6 1042.5,806.4 C1037.7,806.3 1032.5,806 1028.7,805.5 C1025,805.1 1021.5,804.5 1020,803.9 C1018.4,803.3 1018,802.6 1019.4,801.9 C1020.8,801.3 1024,800.6 1028.3,800 C1032.7,799.5 1039.1,799 1045.7,798.7 C1052.4,798.4 1060.7,798.3 1068.3,798.4 C1075.8,798.5 1084.2,798.8 1090.8,799.3 C1097.4,799.7 1103.8,800.5 1107.7,801.3 C1111.6,802 1114.3,803.1 1114.2,804 C1114.2,804.9 1112,806 1107.6,806.9 C1103.3,807.7 1091.5,808.8 1088.3,809.2 M1136.7,797.2 C1137.5,797.3 1140.5,797.7 1141.4,798 C1142.3,798.3 1142.7,798.6 1142,799 C1141.2,799.3 1139.6,799.7 1137.1,800 C1134.6,800.3 1130.9,800.6 1126.9,800.8 C1123,800.9 1117.9,801 1113.4,800.9 C1108.8,800.9 1103.6,800.7 1099.6,800.3 C1095.6,800 1091.6,799.5 1089.4,799 C1087.1,798.5 1085.7,797.8 1086,797.2 C1086.4,796.6 1088.3,795.8 1091.6,795.3 C1094.9,794.7 1100.1,794.1 1105.9,793.8 C1111.7,793.4 1119.3,793.2 1126.4,793.1 C1133.5,793.1 1141.9,793.3 1148.7,793.6 C1155.5,793.9 1162.6,794.5 1167.3,795.2 C1172.1,795.9 1176,796.8 1177.2,797.7 C1178.5,798.6 1177.9,799.6 1175,800.5 C1172.1,801.4 1166.7,802.3 1159.9,803 C1153.2,803.6 1138.7,804.2 1134.5,804.5 M1217.1,794.8 C1217.5,795 1219.3,795.4 1219.2,795.7 C1219.1,796 1218.3,796.4 1216.6,796.7 C1214.8,797 1212,797.3 1208.7,797.5 C1205.4,797.7 1201,797.9 1196.8,797.9 C1192.6,797.9 1187.6,797.8 1183.6,797.6 C1179.5,797.3 1175.2,797 1172.4,796.5 C1169.6,796.1 1167.3,795.5 1166.8,794.9 C1166.2,794.3 1167,793.6 1169.2,793.1 C1171.5,792.5 1175.4,791.9 1180.3,791.5 C1185.2,791 1191.8,790.7 1198.4,790.5 C1205,790.4 1213,790.4 1219.8,790.6 C1226.7,790.8 1234.1,791.3 1239.5,791.8 C1244.9,792.4 1249.7,793.2 1252.2,794 C1254.6,794.8 1255.4,795.8 1254,796.7 C1252.5,797.5 1248.7,798.5 1243.2,799.2 C1237.8,800 1229.8,800.7 1221.3,801.1 C1212.9,801.5 1197.4,801.6 1192.6,801.7 M1300.4,795.3 C1300.3,795.5 1300.8,796 1299.7,796.2 C1298.7,796.5 1296.7,796.9 1294.1,797.1 C1291.5,797.3 1287.9,797.5 1284.2,797.6 C1280.5,797.7 1275.8,797.7 1271.9,797.5 C1267.9,797.4 1263.4,797.1 1260.3,796.8 C1257.1,796.4 1254.2,795.9 1252.9,795.4 C1251.6,794.9 1251.3,794.3 1252.5,793.7 C1253.8,793.1 1256.6,792.5 1260.5,792 C1264.4,791.6 1270,791.1 1275.9,790.9 C1281.8,790.7 1289.2,790.6 1295.9,790.7 C1302.5,790.7 1310,791 1315.9,791.5 C1321.7,791.9 1327.3,792.6 1330.7,793.3 C1334.1,794 1336.3,794.9 1336.1,795.8 C1335.9,796.6 1333.7,797.6 1329.6,798.4 C1325.5,799.1 1318.9,799.9 1311.5,800.4 C1304.1,800.9 1294.4,801.3 1285.2,801.4 C1276,801.5 1261.1,801 1256.2,801 M1377.6,798.7 C1377,798.8 1376,799.3 1374.2,799.5 C1372.3,799.8 1369.4,800 1366.3,800.1 C1363.1,800.3 1359,800.3 1355.3,800.3 C1351.6,800.2 1347.2,800.1 1343.9,799.8 C1340.5,799.5 1337.1,799.1 1335.2,798.7 C1333.3,798.2 1332.1,797.7 1332.5,797.1 C1332.8,796.6 1334.5,796 1337.4,795.5 C1340.3,795 1344.9,794.5 1350,794.2 C1355.1,793.9 1361.8,793.7 1368.1,793.7 C1374.4,793.6 1381.7,793.8 1387.7,794.1 C1393.7,794.4 1400,795 1404.1,795.6 C1408.2,796.2 1411.6,797 1412.6,797.8 C1413.6,798.6 1412.8,799.5 1410.1,800.3 C1407.3,801.1 1402.2,802 1396,802.6 C1389.7,803.1 1381.1,803.7 1372.5,803.9 C1364,804.1 1353.6,804.1 1344.6,803.9 C1335.6,803.7 1322.9,802.7 1318.6,802.5 M1440.3,804.5 C1439.3,804.6 1437,805 1434.5,805.2 C1432,805.4 1428.5,805.5 1425.2,805.5 C1421.8,805.5 1417.7,805.4 1414.3,805.3 C1411,805.1 1407.4,804.8 1405,804.4 C1402.7,804 1400.7,803.5 1400.3,803.1 C1399.9,802.6 1400.5,802 1402.5,801.5 C1404.4,801 1407.9,800.5 1412.1,800.1 C1416.4,799.8 1422.2,799.4 1428,799.3 C1433.8,799.2 1440.8,799.2 1446.8,799.4 C1452.8,799.6 1459.3,800 1464,800.5 C1468.7,801 1473,801.7 1475,802.5 C1477,803.2 1477.7,804.1 1476.2,804.9 C1474.7,805.7 1471.1,806.5 1466,807.2 C1461,807.8 1453.6,808.5 1445.9,808.8 C1438.1,809.1 1428.4,809.3 1419.6,809.3 C1410.8,809.2 1400.9,808.9 1393.1,808.3 C1385.3,807.8 1376.2,806.5 1372.8,806.1 M1481.7,812.2 C1480.5,812.3 1477.1,812.6 1474.2,812.6 C1471.3,812.7 1467.6,812.7 1464.4,812.6 C1461.2,812.5 1457.5,812.3 1454.9,812 C1452.3,811.7 1449.8,811.3 1448.8,810.9 C1447.7,810.4 1447.4,809.9 1448.4,809.4 C1449.5,808.9 1451.9,808.4 1455.3,808 C1458.6,807.6 1463.5,807.2 1468.6,807 C1473.8,806.9 1480.2,806.8 1486.1,806.8 C1491.9,806.9 1498.4,807.2 1503.5,807.6 C1508.6,808 1513.5,808.6 1516.4,809.2 C1519.3,809.9 1521.2,810.7 1520.9,811.4 C1520.6,812.2 1518.4,813.1 1514.6,813.8 C1510.8,814.4 1504.7,815.1 1498,815.6 C1491.2,816 1482.3,816.4 1473.9,816.4 C1465.5,816.5 1455.7,816.3 1447.6,816 C1439.6,815.6 1431.2,814.9 1425.4,814.2 C1419.7,813.4 1415.2,811.8 1413.1,811.4 M1497.4,820.9 C1496,820.9 1491.9,821.1 1489,821 C1486,821 1482.5,820.9 1479.8,820.7 C1477.1,820.4 1474.3,820.1 1472.7,819.8 C1471.1,819.4 1470,818.9 1470.3,818.5 C1470.6,818 1471.9,817.5 1474.4,817.1 C1476.9,816.7 1480.8,816.3 1485.2,816 C1489.6,815.7 1495.4,815.6 1500.8,815.6 C1506.3,815.5 1512.7,815.7 1517.9,816 C1523.1,816.2 1528.5,816.7 1532.1,817.3 C1535.7,817.8 1538.5,818.5 1539.3,819.3 C1540.1,820 1539.3,820.8 1536.7,821.5 C1534.1,822.2 1529.4,822.9 1523.7,823.5 C1518,824 1510.1,824.4 1502.3,824.6 C1494.6,824.8 1485.1,824.8 1477,824.6 C1468.9,824.4 1460.1,823.9 1453.6,823.3 C1447.1,822.6 1441.2,821.7 1438.1,820.8 C1435,819.9 1435.6,818.2 1435.1,817.7"/></defs>
<g transform="matrix(0.568,0,0,0.568,531.7,-166.4)"><g fill="none" stroke-linecap="round" stroke-linejoin="round">
<path d="M202.2,711.1 C199.43,709.33 195.28,703.05 190,703.3 C184.72,703.55 181.17,706.9 178.9,712.2 C176.63,717.5 175.72,721.92 180,726.7 C184.28,731.48 189.48,734.07 197.8,733.3 C206.12,732.53 211.44,729.85 216.7,723.3 C221.96,716.75 222.29,714.21 221,704.4 C219.71,694.59 219.79,688.05 211,680 C202.21,671.95 194.51,670.17 182.2,668.9 C169.89,667.63 166.27,668.87 156.7,674.4 C147.13,679.93 144.28,681.45 140,693.3 C135.72,705.15 136.03,711.58 137.8,726.7 C139.57,741.82 142.77,749.05 147.8,760 C152.83,770.95 151.18,764.41 160,775 C168.82,785.59 173.1,791.47 186.7,806.7 C200.3,821.93 207.42,827.1 220,842.2 C232.58,857.3 233.13,858.68 242.2,873.3 C251.27,887.92 253.7,891.58 260,906.7 C266.3,921.82 265.35,921.91 270,940 C274.65,958.09 278.12,975.96 280.5,986.5" stroke="#000" stroke-width="4.3" fill="none"/><path d="M202.2,711.1 C199.43,709.33 195.28,703.05 190,703.3 C184.72,703.55 181.17,706.9 178.9,712.2 C176.63,717.5 175.72,721.92 180,726.7 C184.28,731.48 189.48,734.07 197.8,733.3 C206.12,732.53 211.44,729.85 216.7,723.3 C221.96,716.75 222.29,714.21 221,704.4 C219.71,694.59 219.79,688.05 211,680 C202.21,671.95 194.51,670.17 182.2,668.9 C169.89,667.63 166.27,668.87 156.7,674.4 C147.13,679.93 144.28,681.45 140,693.3 C135.72,705.15 136.03,711.58 137.8,726.7 C139.57,741.82 142.77,749.05 147.8,760 C152.83,770.95 151.18,764.41 160,775 C168.82,785.59 173.1,791.47 186.7,806.7 C200.3,821.93 207.42,827.1 220,842.2 C232.58,857.3 233.13,858.68 242.2,873.3 C251.27,887.92 253.7,891.58 260,906.7 C266.3,921.82 265.35,921.91 270,940 C274.65,958.09 278.12,975.96 280.5,986.5" stroke="#fff" stroke-width="2.0" fill="none"/>
<path d="M247.8,683.3 C250.07,681.8 252.54,676.45 257.8,676.7 C263.06,676.95 268.01,679.37 271,684.4 C273.99,689.43 274.49,694.37 271,698.9 C267.51,703.43 264.15,705.67 255.6,704.4 C247.05,703.13 239.1,700.87 233.3,693.3 C227.5,685.73 227.98,681.06 230,671 C232.02,660.94 234.9,654.93 242.2,648.9 C249.5,642.87 252.63,643.92 262.2,644.4 C271.77,644.88 275.33,645.45 284.4,651 C293.47,656.55 296.4,659.31 302.2,668.9 C308,678.49 308.48,680.2 310,693.3 C311.52,706.4 311.17,714.98 308.9,726.7 C306.63,738.42 306.05,737.45 300,745 C293.95,752.55 295.3,747.03 282.2,760 C269.1,772.97 256.8,783.57 242.2,802.2 C227.6,820.83 227.86,821.03 217.8,842.2 C207.74,863.37 204.1,873.43 197.8,895.6 C191.5,917.77 191.99,918.38 190,940 C188.01,961.62 189.23,979.44 189,991" stroke="#000" stroke-width="4.3" fill="none"/><path d="M247.8,683.3 C250.07,681.8 252.54,676.45 257.8,676.7 C263.06,676.95 268.01,679.37 271,684.4 C273.99,689.43 274.49,694.37 271,698.9 C267.51,703.43 264.15,705.67 255.6,704.4 C247.05,703.13 239.1,700.87 233.3,693.3 C227.5,685.73 227.98,681.06 230,671 C232.02,660.94 234.9,654.93 242.2,648.9 C249.5,642.87 252.63,643.92 262.2,644.4 C271.77,644.88 275.33,645.45 284.4,651 C293.47,656.55 296.4,659.31 302.2,668.9 C308,678.49 308.48,680.2 310,693.3 C311.52,706.4 311.17,714.98 308.9,726.7 C306.63,738.42 306.05,737.45 300,745 C293.95,752.55 295.3,747.03 282.2,760 C269.1,772.97 256.8,783.57 242.2,802.2 C227.6,820.83 227.86,821.03 217.8,842.2 C207.74,863.37 204.1,873.43 197.8,895.6 C191.5,917.77 191.99,918.38 190,940 C188.01,961.62 189.23,979.44 189,991" stroke="#fff" stroke-width="2.0" fill="none"/>
<path d="M275.6,616.7 C273.06,615.93 269.45,612.05 264.4,613.3 C259.35,614.55 255.05,617.15 253.3,622.2 C251.55,627.25 252.67,631.57 256.7,635.6 C260.73,639.63 264.3,641.02 271.1,640 C277.9,638.98 282.17,637.15 286.7,631.1 C291.23,625.05 292.87,623.11 291.1,613.3 C289.33,603.49 287.97,595.6 278.9,587.8 C269.83,580 263.95,579.4 251.1,578.9 C238.25,578.4 232.79,578.55 222.2,585.6 C211.61,592.65 208.43,596.92 204.4,610 C200.37,623.08 201.61,626.93 204.4,643.3 C207.19,659.67 208.13,665.81 216.7,682.2 C225.27,698.59 231.39,702.5 242.2,715.6 C253.01,728.7 254.31,730.68 264.4,740 C274.49,749.32 277.88,746.64 286.7,756.7 C295.52,766.76 295.3,766.79 303.3,784.4 C311.3,802.01 314.43,811.73 322,834.4 C329.57,857.07 331.87,860.46 336.7,884.4 C341.53,908.34 341.71,917.95 343.3,940 C344.89,962.05 343.61,972.25 343.7,981.7" stroke="#000" stroke-width="4.3" fill="none"/><path d="M275.6,616.7 C273.06,615.93 269.45,612.05 264.4,613.3 C259.35,614.55 255.05,617.15 253.3,622.2 C251.55,627.25 252.67,631.57 256.7,635.6 C260.73,639.63 264.3,641.02 271.1,640 C277.9,638.98 282.17,637.15 286.7,631.1 C291.23,625.05 292.87,623.11 291.1,613.3 C289.33,603.49 287.97,595.6 278.9,587.8 C269.83,580 263.95,579.4 251.1,578.9 C238.25,578.4 232.79,578.55 222.2,585.6 C211.61,592.65 208.43,596.92 204.4,610 C200.37,623.08 201.61,626.93 204.4,643.3 C207.19,659.67 208.13,665.81 216.7,682.2 C225.27,698.59 231.39,702.5 242.2,715.6 C253.01,728.7 254.31,730.68 264.4,740 C274.49,749.32 277.88,746.64 286.7,756.7 C295.52,766.76 295.3,766.79 303.3,784.4 C311.3,802.01 314.43,811.73 322,834.4 C329.57,857.07 331.87,860.46 336.7,884.4 C341.53,908.34 341.71,917.95 343.3,940 C344.89,962.05 343.61,972.25 343.7,981.7" stroke="#fff" stroke-width="2.0" fill="none"/>
<path d="M363.3,613.3 C361.03,612.3 358.08,607.88 353.3,608.9 C348.52,609.92 343.7,612.27 342.2,617.8 C340.7,623.33 342.91,629.02 346.7,633.3 C350.49,637.58 352.35,638.2 358.9,636.7 C365.45,635.2 371.07,634.02 375.6,626.7 C380.13,619.38 381.44,614.74 378.9,604.4 C376.36,594.06 373.47,587.9 364.4,581.1 C355.33,574.3 349.71,574.65 338.9,574.4 C328.09,574.15 324.52,575.72 316.7,580 C308.88,584.28 308.68,586.5 304.4,593.3 C300.12,600.1 299.79,599.91 297.8,610 C295.81,620.09 294.6,623.97 295.6,637.8 C296.6,651.63 296.67,656.9 302.2,671 C307.73,685.1 307.9,684.36 320,700 C332.1,715.64 337.47,713.3 355.6,740 C373.73,766.7 386.15,785.07 400,817.8 C413.85,850.53 412.42,856.7 416.7,884.4 C420.98,912.1 418.7,919.46 418.9,940 C419.1,960.54 417.89,967.07 417.6,975" stroke="#000" stroke-width="4.3" fill="none"/><path d="M363.3,613.3 C361.03,612.3 358.08,607.88 353.3,608.9 C348.52,609.92 343.7,612.27 342.2,617.8 C340.7,623.33 342.91,629.02 346.7,633.3 C350.49,637.58 352.35,638.2 358.9,636.7 C365.45,635.2 371.07,634.02 375.6,626.7 C380.13,619.38 381.44,614.74 378.9,604.4 C376.36,594.06 373.47,587.9 364.4,581.1 C355.33,574.3 349.71,574.65 338.9,574.4 C328.09,574.15 324.52,575.72 316.7,580 C308.88,584.28 308.68,586.5 304.4,593.3 C300.12,600.1 299.79,599.91 297.8,610 C295.81,620.09 294.6,623.97 295.6,637.8 C296.6,651.63 296.67,656.9 302.2,671 C307.73,685.1 307.9,684.36 320,700 C332.1,715.64 337.47,713.3 355.6,740 C373.73,766.7 386.15,785.07 400,817.8 C413.85,850.53 412.42,856.7 416.7,884.4 C420.98,912.1 418.7,919.46 418.9,940 C419.1,960.54 417.89,967.07 417.6,975" stroke="#fff" stroke-width="2.0" fill="none"/>
<path d="M332.2,674.4 C334.47,673.15 337.17,667.63 342.2,668.9 C347.23,670.17 352.63,674.47 354.4,680 C356.17,685.53 354.01,689.76 350,693.3 C345.99,696.84 343.75,697.62 336.7,695.6 C329.65,693.58 323.68,692.47 318.9,684.4 C314.12,676.33 313.58,670.06 315.6,660 C317.62,649.94 320.75,645.03 327.8,640 C334.85,634.97 337.38,636.28 346.7,637.8 C356.02,639.32 360.35,639.17 368.9,646.7 C377.45,654.23 380.12,659.17 384.4,671 C388.68,682.83 389.3,683.76 387.8,698.9 C386.3,714.04 384.6,723.95 377.8,737.8 C371,751.65 367.89,748.17 357.8,760 C347.71,771.83 342.62,778.17 333.3,790 C323.98,801.83 324.25,797.85 316.7,812.2 C309.15,826.55 306.73,834.31 300,853.3 C293.27,872.29 291.53,876.35 287,896 C282.47,915.65 281.47,919.49 280,940 C278.53,960.51 280.39,975.96 280.5,986.5" stroke="#000" stroke-width="4.3" fill="none"/><path d="M332.2,674.4 C334.47,673.15 337.17,667.63 342.2,668.9 C347.23,670.17 352.63,674.47 354.4,680 C356.17,685.53 354.01,689.76 350,693.3 C345.99,696.84 343.75,697.62 336.7,695.6 C329.65,693.58 323.68,692.47 318.9,684.4 C314.12,676.33 313.58,670.06 315.6,660 C317.62,649.94 320.75,645.03 327.8,640 C334.85,634.97 337.38,636.28 346.7,637.8 C356.02,639.32 360.35,639.17 368.9,646.7 C377.45,654.23 380.12,659.17 384.4,671 C388.68,682.83 389.3,683.76 387.8,698.9 C386.3,714.04 384.6,723.95 377.8,737.8 C371,751.65 367.89,748.17 357.8,760 C347.71,771.83 342.62,778.17 333.3,790 C323.98,801.83 324.25,797.85 316.7,812.2 C309.15,826.55 306.73,834.31 300,853.3 C293.27,872.29 291.53,876.35 287,896 C282.47,915.65 281.47,919.49 280,940 C278.53,960.51 280.39,975.96 280.5,986.5" stroke="#fff" stroke-width="2.0" fill="none"/>
<path d="M416.1,633.9 C413.97,635.78 408.58,637.28 406.7,642.2 C404.82,647.12 404.54,651.81 407.8,655.6 C411.06,659.39 415.57,660.42 421.1,658.9 C426.63,657.38 429.43,655.2 432.2,648.9 C434.97,642.6 435.57,638.65 433.3,631.1 C431.03,623.55 427.98,619.75 422.2,615.6 C416.42,611.45 414.85,611.8 407.8,612.8 C400.75,613.8 396.9,614.33 391.1,620 C385.3,625.67 383.72,627.74 382.2,637.8 C380.68,647.86 381.63,653.07 384.4,664.4 C387.17,675.73 388.35,674.95 394.4,687.8 C400.45,700.65 403.03,704.73 411.1,721.1 C419.17,737.47 423.7,745.65 430,760 C436.3,774.35 431.85,766.27 438.9,784.4 C445.95,802.53 454.3,817.33 461.1,840 C467.9,862.67 466.88,861.73 468.9,884.4 C470.92,907.07 470.2,920.14 470,940 C469.8,959.86 468.45,964.75 468,972" stroke="#000" stroke-width="4.3" fill="none"/><path d="M416.1,633.9 C413.97,635.78 408.58,637.28 406.7,642.2 C404.82,647.12 404.54,651.81 407.8,655.6 C411.06,659.39 415.57,660.42 421.1,658.9 C426.63,657.38 429.43,655.2 432.2,648.9 C434.97,642.6 435.57,638.65 433.3,631.1 C431.03,623.55 427.98,619.75 422.2,615.6 C416.42,611.45 414.85,611.8 407.8,612.8 C400.75,613.8 396.9,614.33 391.1,620 C385.3,625.67 383.72,627.74 382.2,637.8 C380.68,647.86 381.63,653.07 384.4,664.4 C387.17,675.73 388.35,674.95 394.4,687.8 C400.45,700.65 403.03,704.73 411.1,721.1 C419.17,737.47 423.7,745.65 430,760 C436.3,774.35 431.85,766.27 438.9,784.4 C445.95,802.53 454.3,817.33 461.1,840 C467.9,862.67 466.88,861.73 468.9,884.4 C470.92,907.07 470.2,920.14 470,940 C469.8,959.86 468.45,964.75 468,972" stroke="#fff" stroke-width="2.0" fill="none"/>
<path d="M420.6,697.8 C422.98,696.78 426.2,692.05 431.1,693.3 C436,694.55 440.93,698.25 442.2,703.3 C443.47,708.35 440.73,712.06 436.7,715.6 C432.67,719.14 431.2,720.67 424.4,718.9 C417.6,717.13 411.48,714.85 406.7,707.8 C401.92,700.75 401.55,697.12 403.3,687.8 C405.05,678.48 407.44,673 414.4,666.7 C421.36,660.4 423.66,659.71 434,660 C444.34,660.29 451.61,661.2 460,668 C468.39,674.8 467.37,678.21 471,690 C474.63,701.79 477.5,706.65 476,720 C474.5,733.35 471.56,735.55 464.4,748.9 C457.24,762.25 459,762.04 444.4,778.9 C429.8,795.76 417.61,801.9 400,823.3 C382.39,844.7 378.03,846.85 366.7,873.3 C355.37,899.75 355.21,915.43 350,940 C344.79,964.57 345.13,972.25 343.7,981.7" stroke="#000" stroke-width="4.3" fill="none"/><path d="M420.6,697.8 C422.98,696.78 426.2,692.05 431.1,693.3 C436,694.55 440.93,698.25 442.2,703.3 C443.47,708.35 440.73,712.06 436.7,715.6 C432.67,719.14 431.2,720.67 424.4,718.9 C417.6,717.13 411.48,714.85 406.7,707.8 C401.92,700.75 401.55,697.12 403.3,687.8 C405.05,678.48 407.44,673 414.4,666.7 C421.36,660.4 423.66,659.71 434,660 C444.34,660.29 451.61,661.2 460,668 C468.39,674.8 467.37,678.21 471,690 C474.63,701.79 477.5,706.65 476,720 C474.5,733.35 471.56,735.55 464.4,748.9 C457.24,762.25 459,762.04 444.4,778.9 C429.8,795.76 417.61,801.9 400,823.3 C382.39,844.7 378.03,846.85 366.7,873.3 C355.37,899.75 355.21,915.43 350,940 C344.79,964.57 345.13,972.25 343.7,981.7" stroke="#fff" stroke-width="2.0" fill="none"/>
<path d="M476.7,826.7 C473.16,832.21 469.67,835.38 461.1,851 C452.53,866.62 447.47,875.43 438.9,895.6 C430.33,915.77 428.13,922 423.3,940 C418.47,958 418.89,967.07 417.6,975" stroke="#000" stroke-width="4.3" fill="none"/><path d="M476.7,826.7 C473.16,832.21 469.67,835.38 461.1,851 C452.53,866.62 447.47,875.43 438.9,895.6 C430.33,915.77 428.13,922 423.3,940 C418.47,958 418.89,967.07 417.6,975" stroke="#fff" stroke-width="2.0" fill="none"/>
</g>
<path d="M172.6,997 C172.53,990.83 172.27,975.05 172.2,960 C172.13,944.95 173.87,921.15 172.2,906.7 C170.53,892.25 167.2,886.27 162.2,873.3 C157.2,860.33 148.12,843.72 142.2,828.9 C136.28,814.08 129.9,799.22 126.7,784.4 C123.5,769.58 123.45,753.13 123,740 C122.55,726.87 122.55,718.75 124,705.6 C125.45,692.45 127.65,675 131.7,661.1 C135.75,647.2 139.97,634.6 148.3,622.2 C156.63,609.8 168.73,595.95 181.7,586.7 C194.67,577.45 212.72,571.23 226.1,566.7 C239.48,562.17 250.18,561.28 262,559.5 C273.82,557.72 284,555.92 297,556 C310,556.08 326.17,557.5 340,560 C353.83,562.5 365,564.67 380,571 C395,577.33 416.67,588.83 430,598 C443.33,607.17 451.67,615.67 460,626 C468.33,636.33 474.33,647.67 480,660 C485.67,672.33 491.25,686.67 494,700 C496.75,713.33 496.62,725.93 496.5,740 C496.38,754.07 495.12,767.73 493.3,784.4 C491.48,801.07 487.45,823.33 485.6,840 C483.75,856.67 482.25,869.68 482.2,884.4 C482.15,899.12 482.88,913.12 485.3,928.3 C487.72,943.48 494.18,964.48 496.7,975.5 C499.22,986.52 498.52,983.22 500.4,994.4 C502.28,1005.58 506.73,1034.57 508,1042.6" fill="none" stroke="#000" stroke-width="1.9"/>
<path d="M184.3,985 C184.5,980.83 185.67,973.05 185.5,960 C185.33,946.95 185.33,921.15 183.3,906.7 C181.27,892.25 178.3,886.27 173.3,873.3 C168.3,860.33 159.4,844.63 153.3,828.9 C147.2,813.17 139.92,793.72 136.7,778.9 C133.48,764.08 133.92,754.08 134,740 C134.08,725.92 133.88,710.33 137.2,694.4 C140.52,678.47 145.57,659.77 153.9,644.4 C162.23,629.03 173.32,613.48 187.2,602.2 C201.08,590.92 218.9,582.4 237.2,576.7 C255.5,571 279.87,568.53 297,568 C314.13,567.47 324.5,569.5 340,573.5 C355.5,577.5 375,583.25 390,592 C405,600.75 418.33,613.83 430,626 C441.67,638.17 452.67,652.67 460,665 C467.33,677.33 470.33,687.83 474,700 C477.67,712.17 480.67,725.5 482,738 C483.33,750.5 482.33,763.55 482,775 C481.67,786.45 481.82,794.03 480,806.7 C478.18,819.37 472.77,836.18 471.1,851 C469.43,865.82 469.52,883.5 470,895.6 C470.48,907.7 472.08,912.63 474,923.6 C475.92,934.57 480.2,954.33 481.5,961.4 C482.8,968.47 481.75,965.23 481.8,966" fill="none" stroke="#000" stroke-width="1.8"/>
<path d="M184.3,985 Q184,994.5 193,994.5 L475.9,973.2 Q481.8,972.6 481.8,966" fill="none" stroke="#000" stroke-width="1.8"/>
<path d="M187,1060 L184.6,1008.2 L486.3,983.6 Q491,984 491,988 L498.5,1041.6 L523,1049" fill="none" stroke="#000" stroke-width="1.8"/>
<path d="M138.8,1440.35 A14.5,4.35 0 0 1 167.8,1440.35 L167.8,1447.65 A14.5,4.35 0 0 1 138.8,1447.65 Z" fill="#fff" stroke="#000" stroke-width="1.8"/><ellipse cx="153.3" cy="1440.35" rx="14.5" ry="4.35" fill="#fff" stroke="#000" stroke-width="1.5"/>
<path d="M291.7,1571.45 A16.5,4.95 0 0 1 324.7,1571.45 L324.7,1580.55 A16.5,4.95 0 0 1 291.7,1580.55 Z" fill="#fff" stroke="#000" stroke-width="1.8"/><ellipse cx="308.2" cy="1571.45" rx="16.5" ry="4.95" fill="#fff" stroke="#000" stroke-width="1.5"/>
<path d="M626,1511.5 A15,4.5 0 0 1 656,1511.5 L656,1518.5 A15,4.5 0 0 1 626,1518.5 Z" fill="#fff" stroke="#000" stroke-width="1.8"/><ellipse cx="641" cy="1511.5" rx="15" ry="4.5" fill="#fff" stroke="#000" stroke-width="1.5"/>
<path d="M432.7,1396.5 A14,4.2 0 0 1 460.7,1396.5 L460.7,1403.1 A14,4.2 0 0 1 432.7,1403.1 Z" fill="#fff" stroke="#000" stroke-width="1.8"/><ellipse cx="446.7" cy="1396.5" rx="14" ry="4.2" fill="#fff" stroke="#000" stroke-width="1.5"/>
<path d="M356,1130.7 C344.88,1135.47 307.08,1148.97 289.3,1159.3 C271.52,1169.63 259.3,1179.8 249.3,1192.7 C239.3,1205.6 235.35,1222.15 229.3,1236.7 C223.25,1251.25 219.83,1262.62 213,1280 C206.17,1297.38 199.05,1314.83 188.3,1341 C177.55,1367.17 155.13,1421 148.5,1437 L156,1446 L156,1446 C161.38,1433.95 176.58,1401.9 188.3,1373.7 C200.02,1345.5 218.8,1296.3 226.3,1276.8 C233.8,1257.3 230.35,1264.5 233.3,1256.7 C236.25,1248.9 237.33,1240.67 244,1230 C250.67,1219.33 261.75,1203.37 273.3,1192.7 C284.85,1182.03 294.85,1175.28 313.3,1166 C331.75,1156.72 372.22,1141.83 384,1137 Z" fill="#fff" stroke="none"/><path d="M356,1130.7 C344.88,1135.47 307.08,1148.97 289.3,1159.3 C271.52,1169.63 259.3,1179.8 249.3,1192.7 C239.3,1205.6 235.35,1222.15 229.3,1236.7 C223.25,1251.25 219.83,1262.62 213,1280 C206.17,1297.38 199.05,1314.83 188.3,1341 C177.55,1367.17 155.13,1421 148.5,1437" fill="none" stroke="#000" stroke-width="1.8"/><path d="M384,1137 C372.22,1141.83 331.75,1156.72 313.3,1166 C294.85,1175.28 284.85,1182.03 273.3,1192.7 C261.75,1203.37 250.67,1219.33 244,1230 C237.33,1240.67 236.25,1248.9 233.3,1256.7 C230.35,1264.5 233.8,1257.3 226.3,1276.8 C218.8,1296.3 200.02,1345.5 188.3,1373.7 C176.58,1401.9 161.38,1433.95 156,1446" fill="none" stroke="#000" stroke-width="1.8"/><path d="M381,1141 C369.5,1145.67 329.83,1159.83 312,1169 C294.17,1178.17 285,1185.33 274,1196 C263,1206.67 252.5,1222.67 246,1233 C239.5,1243.33 238.75,1250.33 235,1258 C231.25,1265.67 231.75,1259.58 223.5,1279 C215.25,1298.42 197.08,1346.83 185.5,1374.5 C173.92,1402.17 159.25,1433.25 154,1445" fill="none" stroke="#000" stroke-width="0.9"/>
<path d="M356,1130.7 L384,1137" fill="none" stroke="#000" stroke-width="1.2"/>
<path d="M189.7,1373.55 L470.8,1335.55 A6,6 0 0 1 472.4,1347.45 L191.3,1385.45" fill="#fff" stroke="#000" stroke-width="2"/>
<path d="M172.6,997 C172.15,997.92 169.33,996.08 169.9,1002.5 C170.47,1008.92 172.98,1017.58 176,1035.5 C179.02,1053.42 183.78,1085.37 188,1110 C192.22,1134.63 196,1159.97 201.3,1183.3 C206.6,1206.63 214.23,1228.88 219.8,1250 C225.37,1271.12 221.27,1257 234.7,1310 C248.13,1363 289.45,1525 300.4,1568 L317,1566 L317,1566 C305.5,1523.33 261.47,1362.67 248,1310 C234.53,1257.33 239.53,1262.22 236.2,1250 C232.87,1237.78 232.03,1248.92 228,1236.7 C223.97,1224.48 216.67,1197.82 212,1176.7 C207.33,1155.58 204.57,1138.25 200,1110 C195.43,1081.75 187.17,1024.33 184.6,1007.2 Z" fill="#fff" stroke="none"/><path d="M172.6,997 C172.15,997.92 169.33,996.08 169.9,1002.5 C170.47,1008.92 172.98,1017.58 176,1035.5 C179.02,1053.42 183.78,1085.37 188,1110 C192.22,1134.63 196,1159.97 201.3,1183.3 C206.6,1206.63 214.23,1228.88 219.8,1250 C225.37,1271.12 221.27,1257 234.7,1310 C248.13,1363 289.45,1525 300.4,1568" fill="none" stroke="#000" stroke-width="1.8"/><path d="M184.6,1007.2 C187.17,1024.33 195.43,1081.75 200,1110 C204.57,1138.25 207.33,1155.58 212,1176.7 C216.67,1197.82 223.97,1224.48 228,1236.7 C232.03,1248.92 232.87,1237.78 236.2,1250 C239.53,1262.22 234.53,1257.33 248,1310 C261.47,1362.67 305.5,1523.33 317,1566" fill="none" stroke="#000" stroke-width="1.8"/><path d="M172.3,996 C173.17,996.77 175.93,995.6 177.5,1000.6 C179.07,1005.6 178.78,1007.77 181.7,1026 C184.62,1044.23 187.78,1072.67 195,1110 C202.22,1147.33 217.28,1216.67 225,1250 C232.72,1283.33 227.3,1257.17 241.3,1310 C255.3,1362.83 297.72,1524.17 309,1567" fill="none" stroke="#000" stroke-width="0.9"/>
<circle cx="180.3" cy="1048.3" r="3.3" fill="#fff" stroke="#000" stroke-width="1.2"/>
<circle cx="221.3" cy="1248" r="3" fill="#fff" stroke="#000" stroke-width="1"/>
<path d="M188.3,1037.4 L196.8,1037.4 L196.8,1069.5 L226,1076" fill="none" stroke="#000" stroke-width="1.8"/>
<path d="M190.5,1041 L193,1041 L193,1068" fill="none" stroke="#000" stroke-width="0.8"/>
<path d="M196.8,1088.4 L222.3,1094" fill="none" stroke="#000" stroke-width="1.8"/>
<path d="M490,1013 L491,1050 M494,1013 L499,1013 L503,1042 L540,1054" fill="none" stroke="#000" stroke-width="1.6"/>
<path d="M384,1137 L398,1141 Q406,1142 405,1134 L404,1129" fill="none" stroke="#000" stroke-width="1.6"/>
<path d="M380,1132 L394,1136 Q399,1136 399,1131" fill="none" stroke="#000" stroke-width="1"/>
<path d="M514.2,1129.6 C520.03,1148 529.4,1177.1 549.2,1240 C569,1302.9 619.03,1462.5 633,1507 L649,1507 L649,1507 C634.45,1462.5 582.08,1303.17 561.7,1240 C541.32,1176.83 532.53,1146.67 526.7,1128 Z" fill="#fff" stroke="none"/><path d="M514.2,1129.6 C520.03,1148 529.4,1177.1 549.2,1240 C569,1302.9 619.03,1462.5 633,1507" fill="none" stroke="#000" stroke-width="1.8"/><path d="M526.7,1128 C532.53,1146.67 541.32,1176.83 561.7,1240 C582.08,1303.17 634.45,1462.5 649,1507" fill="none" stroke="#000" stroke-width="1.8"/><path d="M522,1129.6 C527.83,1148 537,1177.1 557,1240 C577,1302.9 627.83,1462.5 642,1507" fill="none" stroke="#000" stroke-width="0.9"/>
<path d="M580.3,1119.4 C581.22,1121.17 585.67,1125.97 585.8,1130 C585.93,1134.03 583.83,1139.78 581.1,1143.6 C578.37,1147.42 574.32,1148.77 569.4,1152.9 C564.48,1157.03 556.33,1163.22 551.6,1168.4 C546.87,1173.58 547.23,1172.07 541,1184 C534.77,1195.93 524.17,1219 514.2,1240 C504.23,1261 493.4,1284.17 481.2,1310 C469,1335.83 447.7,1380.83 441,1395 L452,1396 L452,1396 C458.77,1381.67 479.9,1336 492.6,1310 C505.3,1284 519.28,1256.85 528.2,1240 C537.12,1223.15 541.17,1217.33 546.1,1208.9 C551.03,1200.47 552.62,1196.53 557.8,1189.4 C562.98,1182.27 571.37,1172.97 577.2,1166.1 C583.03,1159.23 589.43,1153.38 592.8,1148.2 C596.17,1143.02 597.53,1140.18 597.4,1135 C597.27,1129.82 592.9,1120.08 592,1117.1 Z" fill="#fff" stroke="none"/><path d="M580.3,1119.4 C581.22,1121.17 585.67,1125.97 585.8,1130 C585.93,1134.03 583.83,1139.78 581.1,1143.6 C578.37,1147.42 574.32,1148.77 569.4,1152.9 C564.48,1157.03 556.33,1163.22 551.6,1168.4 C546.87,1173.58 547.23,1172.07 541,1184 C534.77,1195.93 524.17,1219 514.2,1240 C504.23,1261 493.4,1284.17 481.2,1310 C469,1335.83 447.7,1380.83 441,1395" fill="none" stroke="#000" stroke-width="1.8"/><path d="M592,1117.1 C592.9,1120.08 597.27,1129.82 597.4,1135 C597.53,1140.18 596.17,1143.02 592.8,1148.2 C589.43,1153.38 583.03,1159.23 577.2,1166.1 C571.37,1172.97 562.98,1182.27 557.8,1189.4 C552.62,1196.53 551.03,1200.47 546.1,1208.9 C541.17,1217.33 537.12,1223.15 528.2,1240 C519.28,1256.85 505.3,1284 492.6,1310 C479.9,1336 458.77,1381.67 452,1396" fill="none" stroke="#000" stroke-width="1.8"/><path d="M589.5,1117.6 C590.35,1120.5 594.52,1129.93 594.6,1135 C594.68,1140.07 593.27,1143 590,1148 C586.73,1153 580.75,1158.33 575,1165 C569.25,1171.67 560.73,1180.83 555.5,1188 C550.27,1195.17 548.57,1199.33 543.6,1208 C538.63,1216.67 534.6,1223 525.7,1240 C516.8,1257 502.9,1284 490.2,1310 C477.5,1336 456.28,1381.67 449.5,1396" fill="none" stroke="#000" stroke-width="0.9"/>
<circle cx="533.7" cy="1211.2" r="3" fill="#fff" stroke="#000" stroke-width="1"/>
<path d="M287.16,1456.57 L609.16,1406.57 A5.5,5.5 0 0 1 610.84,1417.43 L288.84,1467.43" fill="#fff" stroke="#000" stroke-width="2"/>
<path d="M265.2,1363.25 L470.8,1335.55 A6,6 0 0 1 472.4,1347.45 L266.8,1375.15" fill="#fff" stroke="#000" stroke-width="2"/>
<path d="M222.2,1085.15 A208.4,33.65 0 0 1 639,1085.15 L639,1088 A208.4,44 0 0 1 222.2,1088 Z" fill="#fff" stroke="#000" stroke-width="1.9"/>
<use href="#pat0" fill="none" stroke="#222" stroke-width="2.4"/><use href="#pat0" fill="none" stroke="#fff" stroke-width="1.1"/>
<path d="M222.2,1085.15 A208.4,33.65 0 0 0 639,1085.15" fill="none" stroke="#000" stroke-width="1.1"/>
<path d="M222.2,1085.15 A208.4,33.65 0 0 1 639,1085.15 L639,1088 A208.4,44 0 0 1 222.2,1088 Z" fill="none" stroke="#000" stroke-width="1.9"/>
<ellipse cx="428" cy="1081" rx="42" ry="6" fill="#fff" stroke="#555" stroke-width="0.8"/></g>
<path d="M761,330.5 C766,322 769,314 767,306 C765,298 759,294 759.5,289 Q760,287 764,287 L790,287 Q794.5,287 794,290 C793,296 786,300 786,310 C786,320 790,326 792,330.5 L818,332 Q822,333 822,337 L822,444 A46,9.5 0 0 1 730,444 L730,337 Q730,333 734,332 Z" fill="#fff" stroke="#000" stroke-width="1.9"/>
<path d="M731,336 Q776,342 821,336" fill="none" stroke="#000" stroke-width="1.2"/>
<text transform="translate(776,363.3) rotate(0) scale(1.0193,1) translate(-28.5,8.6)" font-size="25" fill="#000" stroke="#000" stroke-width="1.3" stroke-linejoin="round">MAX</text>
<text transform="translate(776,397.8) rotate(0) scale(0.9824,1) translate(-38.33,15.6)" font-size="45.35" fill="#000" stroke="#000" stroke-width="1.3" stroke-linejoin="round">110</text>
<text x="758.8" y="443.5" font-size="30.5" fill="#000" stroke="#000" stroke-width="1" textLength="32.5" lengthAdjust="spacingAndGlyphs">kg</text>
<g><g fill="none" stroke-linecap="round" stroke-linejoin="round">
<path d="M202.2,711.1 C199.43,709.33 195.28,703.05 190,703.3 C184.72,703.55 181.17,706.9 178.9,712.2 C176.63,717.5 175.72,721.92 180,726.7 C184.28,731.48 189.48,734.07 197.8,733.3 C206.12,732.53 211.44,729.85 216.7,723.3 C221.96,716.75 222.29,714.21 221,704.4 C219.71,694.59 219.79,688.05 211,680 C202.21,671.95 194.51,670.17 182.2,668.9 C169.89,667.63 166.27,668.87 156.7,674.4 C147.13,679.93 144.28,681.45 140,693.3 C135.72,705.15 136.03,711.58 137.8,726.7 C139.57,741.82 142.77,749.05 147.8,760 C152.83,770.95 151.18,764.41 160,775 C168.82,785.59 173.1,791.47 186.7,806.7 C200.3,821.93 207.42,827.1 220,842.2 C232.58,857.3 233.13,858.68 242.2,873.3 C251.27,887.92 253.7,891.58 260,906.7 C266.3,921.82 265.35,921.91 270,940 C274.65,958.09 278.12,975.96 280.5,986.5" stroke="#000" stroke-width="3.61" fill="none"/><path d="M202.2,711.1 C199.43,709.33 195.28,703.05 190,703.3 C184.72,703.55 181.17,706.9 178.9,712.2 C176.63,717.5 175.72,721.92 180,726.7 C184.28,731.48 189.48,734.07 197.8,733.3 C206.12,732.53 211.44,729.85 216.7,723.3 C221.96,716.75 222.29,714.21 221,704.4 C219.71,694.59 219.79,688.05 211,680 C202.21,671.95 194.51,670.17 182.2,668.9 C169.89,667.63 166.27,668.87 156.7,674.4 C147.13,679.93 144.28,681.45 140,693.3 C135.72,705.15 136.03,711.58 137.8,726.7 C139.57,741.82 142.77,749.05 147.8,760 C152.83,770.95 151.18,764.41 160,775 C168.82,785.59 173.1,791.47 186.7,806.7 C200.3,821.93 207.42,827.1 220,842.2 C232.58,857.3 233.13,858.68 242.2,873.3 C251.27,887.92 253.7,891.58 260,906.7 C266.3,921.82 265.35,921.91 270,940 C274.65,958.09 278.12,975.96 280.5,986.5" stroke="#fff" stroke-width="1.81" fill="none"/>
<path d="M247.8,683.3 C250.07,681.8 252.54,676.45 257.8,676.7 C263.06,676.95 268.01,679.37 271,684.4 C273.99,689.43 274.49,694.37 271,698.9 C267.51,703.43 264.15,705.67 255.6,704.4 C247.05,703.13 239.1,700.87 233.3,693.3 C227.5,685.73 227.98,681.06 230,671 C232.02,660.94 234.9,654.93 242.2,648.9 C249.5,642.87 252.63,643.92 262.2,644.4 C271.77,644.88 275.33,645.45 284.4,651 C293.47,656.55 296.4,659.31 302.2,668.9 C308,678.49 308.48,680.2 310,693.3 C311.52,706.4 311.17,714.98 308.9,726.7 C306.63,738.42 306.05,737.45 300,745 C293.95,752.55 295.3,747.03 282.2,760 C269.1,772.97 256.8,783.57 242.2,802.2 C227.6,820.83 227.86,821.03 217.8,842.2 C207.74,863.37 204.1,873.43 197.8,895.6 C191.5,917.77 191.99,918.38 190,940 C188.01,961.62 189.23,979.44 189,991" stroke="#000" stroke-width="3.61" fill="none"/><path d="M247.8,683.3 C250.07,681.8 252.54,676.45 257.8,676.7 C263.06,676.95 268.01,679.37 271,684.4 C273.99,689.43 274.49,694.37 271,698.9 C267.51,703.43 264.15,705.67 255.6,704.4 C247.05,703.13 239.1,700.87 233.3,693.3 C227.5,685.73 227.98,681.06 230,671 C232.02,660.94 234.9,654.93 242.2,648.9 C249.5,642.87 252.63,643.92 262.2,644.4 C271.77,644.88 275.33,645.45 284.4,651 C293.47,656.55 296.4,659.31 302.2,668.9 C308,678.49 308.48,680.2 310,693.3 C311.52,706.4 311.17,714.98 308.9,726.7 C306.63,738.42 306.05,737.45 300,745 C293.95,752.55 295.3,747.03 282.2,760 C269.1,772.97 256.8,783.57 242.2,802.2 C227.6,820.83 227.86,821.03 217.8,842.2 C207.74,863.37 204.1,873.43 197.8,895.6 C191.5,917.77 191.99,918.38 190,940 C188.01,961.62 189.23,979.44 189,991" stroke="#fff" stroke-width="1.81" fill="none"/>
<path d="M275.6,616.7 C273.06,615.93 269.45,612.05 264.4,613.3 C259.35,614.55 255.05,617.15 253.3,622.2 C251.55,627.25 252.67,631.57 256.7,635.6 C260.73,639.63 264.3,641.02 271.1,640 C277.9,638.98 282.17,637.15 286.7,631.1 C291.23,625.05 292.87,623.11 291.1,613.3 C289.33,603.49 287.97,595.6 278.9,587.8 C269.83,580 263.95,579.4 251.1,578.9 C238.25,578.4 232.79,578.55 222.2,585.6 C211.61,592.65 208.43,596.92 204.4,610 C200.37,623.08 201.61,626.93 204.4,643.3 C207.19,659.67 208.13,665.81 216.7,682.2 C225.27,698.59 231.39,702.5 242.2,715.6 C253.01,728.7 254.31,730.68 264.4,740 C274.49,749.32 277.88,746.64 286.7,756.7 C295.52,766.76 295.3,766.79 303.3,784.4 C311.3,802.01 314.43,811.73 322,834.4 C329.57,857.07 331.87,860.46 336.7,884.4 C341.53,908.34 341.71,917.95 343.3,940 C344.89,962.05 343.61,972.25 343.7,981.7" stroke="#000" stroke-width="3.61" fill="none"/><path d="M275.6,616.7 C273.06,615.93 269.45,612.05 264.4,613.3 C259.35,614.55 255.05,617.15 253.3,622.2 C251.55,627.25 252.67,631.57 256.7,635.6 C260.73,639.63 264.3,641.02 271.1,640 C277.9,638.98 282.17,637.15 286.7,631.1 C291.23,625.05 292.87,623.11 291.1,613.3 C289.33,603.49 287.97,595.6 278.9,587.8 C269.83,580 263.95,579.4 251.1,578.9 C238.25,578.4 232.79,578.55 222.2,585.6 C211.61,592.65 208.43,596.92 204.4,610 C200.37,623.08 201.61,626.93 204.4,643.3 C207.19,659.67 208.13,665.81 216.7,682.2 C225.27,698.59 231.39,702.5 242.2,715.6 C253.01,728.7 254.31,730.68 264.4,740 C274.49,749.32 277.88,746.64 286.7,756.7 C295.52,766.76 295.3,766.79 303.3,784.4 C311.3,802.01 314.43,811.73 322,834.4 C329.57,857.07 331.87,860.46 336.7,884.4 C341.53,908.34 341.71,917.95 343.3,940 C344.89,962.05 343.61,972.25 343.7,981.7" stroke="#fff" stroke-width="1.81" fill="none"/>
<path d="M363.3,613.3 C361.03,612.3 358.08,607.88 353.3,608.9 C348.52,609.92 343.7,612.27 342.2,617.8 C340.7,623.33 342.91,629.02 346.7,633.3 C350.49,637.58 352.35,638.2 358.9,636.7 C365.45,635.2 371.07,634.02 375.6,626.7 C380.13,619.38 381.44,614.74 378.9,604.4 C376.36,594.06 373.47,587.9 364.4,581.1 C355.33,574.3 349.71,574.65 338.9,574.4 C328.09,574.15 324.52,575.72 316.7,580 C308.88,584.28 308.68,586.5 304.4,593.3 C300.12,600.1 299.79,599.91 297.8,610 C295.81,620.09 294.6,623.97 295.6,637.8 C296.6,651.63 296.67,656.9 302.2,671 C307.73,685.1 307.9,684.36 320,700 C332.1,715.64 337.47,713.3 355.6,740 C373.73,766.7 386.15,785.07 400,817.8 C413.85,850.53 412.42,856.7 416.7,884.4 C420.98,912.1 418.7,919.46 418.9,940 C419.1,960.54 417.89,967.07 417.6,975" stroke="#000" stroke-width="3.61" fill="none"/><path d="M363.3,613.3 C361.03,612.3 358.08,607.88 353.3,608.9 C348.52,609.92 343.7,612.27 342.2,617.8 C340.7,623.33 342.91,629.02 346.7,633.3 C350.49,637.58 352.35,638.2 358.9,636.7 C365.45,635.2 371.07,634.02 375.6,626.7 C380.13,619.38 381.44,614.74 378.9,604.4 C376.36,594.06 373.47,587.9 364.4,581.1 C355.33,574.3 349.71,574.65 338.9,574.4 C328.09,574.15 324.52,575.72 316.7,580 C308.88,584.28 308.68,586.5 304.4,593.3 C300.12,600.1 299.79,599.91 297.8,610 C295.81,620.09 294.6,623.97 295.6,637.8 C296.6,651.63 296.67,656.9 302.2,671 C307.73,685.1 307.9,684.36 320,700 C332.1,715.64 337.47,713.3 355.6,740 C373.73,766.7 386.15,785.07 400,817.8 C413.85,850.53 412.42,856.7 416.7,884.4 C420.98,912.1 418.7,919.46 418.9,940 C419.1,960.54 417.89,967.07 417.6,975" stroke="#fff" stroke-width="1.81" fill="none"/>
<path d="M332.2,674.4 C334.47,673.15 337.17,667.63 342.2,668.9 C347.23,670.17 352.63,674.47 354.4,680 C356.17,685.53 354.01,689.76 350,693.3 C345.99,696.84 343.75,697.62 336.7,695.6 C329.65,693.58 323.68,692.47 318.9,684.4 C314.12,676.33 313.58,670.06 315.6,660 C317.62,649.94 320.75,645.03 327.8,640 C334.85,634.97 337.38,636.28 346.7,637.8 C356.02,639.32 360.35,639.17 368.9,646.7 C377.45,654.23 380.12,659.17 384.4,671 C388.68,682.83 389.3,683.76 387.8,698.9 C386.3,714.04 384.6,723.95 377.8,737.8 C371,751.65 367.89,748.17 357.8,760 C347.71,771.83 342.62,778.17 333.3,790 C323.98,801.83 324.25,797.85 316.7,812.2 C309.15,826.55 306.73,834.31 300,853.3 C293.27,872.29 291.53,876.35 287,896 C282.47,915.65 281.47,919.49 280,940 C278.53,960.51 280.39,975.96 280.5,986.5" stroke="#000" stroke-width="3.61" fill="none"/><path d="M332.2,674.4 C334.47,673.15 337.17,667.63 342.2,668.9 C347.23,670.17 352.63,674.47 354.4,680 C356.17,685.53 354.01,689.76 350,693.3 C345.99,696.84 343.75,697.62 336.7,695.6 C329.65,693.58 323.68,692.47 318.9,684.4 C314.12,676.33 313.58,670.06 315.6,660 C317.62,649.94 320.75,645.03 327.8,640 C334.85,634.97 337.38,636.28 346.7,637.8 C356.02,639.32 360.35,639.17 368.9,646.7 C377.45,654.23 380.12,659.17 384.4,671 C388.68,682.83 389.3,683.76 387.8,698.9 C386.3,714.04 384.6,723.95 377.8,737.8 C371,751.65 367.89,748.17 357.8,760 C347.71,771.83 342.62,778.17 333.3,790 C323.98,801.83 324.25,797.85 316.7,812.2 C309.15,826.55 306.73,834.31 300,853.3 C293.27,872.29 291.53,876.35 287,896 C282.47,915.65 281.47,919.49 280,940 C278.53,960.51 280.39,975.96 280.5,986.5" stroke="#fff" stroke-width="1.81" fill="none"/>
<path d="M416.1,633.9 C413.97,635.78 408.58,637.28 406.7,642.2 C404.82,647.12 404.54,651.81 407.8,655.6 C411.06,659.39 415.57,660.42 421.1,658.9 C426.63,657.38 429.43,655.2 432.2,648.9 C434.97,642.6 435.57,638.65 433.3,631.1 C431.03,623.55 427.98,619.75 422.2,615.6 C416.42,611.45 414.85,611.8 407.8,612.8 C400.75,613.8 396.9,614.33 391.1,620 C385.3,625.67 383.72,627.74 382.2,637.8 C380.68,647.86 381.63,653.07 384.4,664.4 C387.17,675.73 388.35,674.95 394.4,687.8 C400.45,700.65 403.03,704.73 411.1,721.1 C419.17,737.47 423.7,745.65 430,760 C436.3,774.35 431.85,766.27 438.9,784.4 C445.95,802.53 454.3,817.33 461.1,840 C467.9,862.67 466.88,861.73 468.9,884.4 C470.92,907.07 470.2,920.14 470,940 C469.8,959.86 468.45,964.75 468,972" stroke="#000" stroke-width="3.61" fill="none"/><path d="M416.1,633.9 C413.97,635.78 408.58,637.28 406.7,642.2 C404.82,647.12 404.54,651.81 407.8,655.6 C411.06,659.39 415.57,660.42 421.1,658.9 C426.63,657.38 429.43,655.2 432.2,648.9 C434.97,642.6 435.57,638.65 433.3,631.1 C431.03,623.55 427.98,619.75 422.2,615.6 C416.42,611.45 414.85,611.8 407.8,612.8 C400.75,613.8 396.9,614.33 391.1,620 C385.3,625.67 383.72,627.74 382.2,637.8 C380.68,647.86 381.63,653.07 384.4,664.4 C387.17,675.73 388.35,674.95 394.4,687.8 C400.45,700.65 403.03,704.73 411.1,721.1 C419.17,737.47 423.7,745.65 430,760 C436.3,774.35 431.85,766.27 438.9,784.4 C445.95,802.53 454.3,817.33 461.1,840 C467.9,862.67 466.88,861.73 468.9,884.4 C470.92,907.07 470.2,920.14 470,940 C469.8,959.86 468.45,964.75 468,972" stroke="#fff" stroke-width="1.81" fill="none"/>
<path d="M420.6,697.8 C422.98,696.78 426.2,692.05 431.1,693.3 C436,694.55 440.93,698.25 442.2,703.3 C443.47,708.35 440.73,712.06 436.7,715.6 C432.67,719.14 431.2,720.67 424.4,718.9 C417.6,717.13 411.48,714.85 406.7,707.8 C401.92,700.75 401.55,697.12 403.3,687.8 C405.05,678.48 407.44,673 414.4,666.7 C421.36,660.4 423.66,659.71 434,660 C444.34,660.29 451.61,661.2 460,668 C468.39,674.8 467.37,678.21 471,690 C474.63,701.79 477.5,706.65 476,720 C474.5,733.35 471.56,735.55 464.4,748.9 C457.24,762.25 459,762.04 444.4,778.9 C429.8,795.76 417.61,801.9 400,823.3 C382.39,844.7 378.03,846.85 366.7,873.3 C355.37,899.75 355.21,915.43 350,940 C344.79,964.57 345.13,972.25 343.7,981.7" stroke="#000" stroke-width="3.61" fill="none"/><path d="M420.6,697.8 C422.98,696.78 426.2,692.05 431.1,693.3 C436,694.55 440.93,698.25 442.2,703.3 C443.47,708.35 440.73,712.06 436.7,715.6 C432.67,719.14 431.2,720.67 424.4,718.9 C417.6,717.13 411.48,714.85 406.7,707.8 C401.92,700.75 401.55,697.12 403.3,687.8 C405.05,678.48 407.44,673 414.4,666.7 C421.36,660.4 423.66,659.71 434,660 C444.34,660.29 451.61,661.2 460,668 C468.39,674.8 467.37,678.21 471,690 C474.63,701.79 477.5,706.65 476,720 C474.5,733.35 471.56,735.55 464.4,748.9 C457.24,762.25 459,762.04 444.4,778.9 C429.8,795.76 417.61,801.9 400,823.3 C382.39,844.7 378.03,846.85 366.7,873.3 C355.37,899.75 355.21,915.43 350,940 C344.79,964.57 345.13,972.25 343.7,981.7" stroke="#fff" stroke-width="1.81" fill="none"/>
<path d="M476.7,826.7 C473.16,832.21 469.67,835.38 461.1,851 C452.53,866.62 447.47,875.43 438.9,895.6 C430.33,915.77 428.13,922 423.3,940 C418.47,958 418.89,967.07 417.6,975" stroke="#000" stroke-width="3.61" fill="none"/><path d="M476.7,826.7 C473.16,832.21 469.67,835.38 461.1,851 C452.53,866.62 447.47,875.43 438.9,895.6 C430.33,915.77 428.13,922 423.3,940 C418.47,958 418.89,967.07 417.6,975" stroke="#fff" stroke-width="1.81" fill="none"/>
</g>
<path d="M172.6,997 C172.53,990.83 172.27,975.05 172.2,960 C172.13,944.95 173.87,921.15 172.2,906.7 C170.53,892.25 167.2,886.27 162.2,873.3 C157.2,860.33 148.12,843.72 142.2,828.9 C136.28,814.08 129.9,799.22 126.7,784.4 C123.5,769.58 123.45,753.13 123,740 C122.55,726.87 122.55,718.75 124,705.6 C125.45,692.45 127.65,675 131.7,661.1 C135.75,647.2 139.97,634.6 148.3,622.2 C156.63,609.8 168.73,595.95 181.7,586.7 C194.67,577.45 212.72,571.23 226.1,566.7 C239.48,562.17 250.18,561.28 262,559.5 C273.82,557.72 284,555.92 297,556 C310,556.08 326.17,557.5 340,560 C353.83,562.5 365,564.67 380,571 C395,577.33 416.67,588.83 430,598 C443.33,607.17 451.67,615.67 460,626 C468.33,636.33 474.33,647.67 480,660 C485.67,672.33 491.25,686.67 494,700 C496.75,713.33 496.62,725.93 496.5,740 C496.38,754.07 495.12,767.73 493.3,784.4 C491.48,801.07 487.45,823.33 485.6,840 C483.75,856.67 482.25,869.68 482.2,884.4 C482.15,899.12 482.88,913.12 485.3,928.3 C487.72,943.48 494.18,964.48 496.7,975.5 C499.22,986.52 498.52,983.22 500.4,994.4 C502.28,1005.58 506.73,1034.57 508,1042.6" fill="none" stroke="#000" stroke-width="2.3"/>
<path d="M184.3,985 C184.5,980.83 185.67,973.05 185.5,960 C185.33,946.95 185.33,921.15 183.3,906.7 C181.27,892.25 178.3,886.27 173.3,873.3 C168.3,860.33 159.4,844.63 153.3,828.9 C147.2,813.17 139.92,793.72 136.7,778.9 C133.48,764.08 133.92,754.08 134,740 C134.08,725.92 133.88,710.33 137.2,694.4 C140.52,678.47 145.57,659.77 153.9,644.4 C162.23,629.03 173.32,613.48 187.2,602.2 C201.08,590.92 218.9,582.4 237.2,576.7 C255.5,571 279.87,568.53 297,568 C314.13,567.47 324.5,569.5 340,573.5 C355.5,577.5 375,583.25 390,592 C405,600.75 418.33,613.83 430,626 C441.67,638.17 452.67,652.67 460,665 C467.33,677.33 470.33,687.83 474,700 C477.67,712.17 480.67,725.5 482,738 C483.33,750.5 482.33,763.55 482,775 C481.67,786.45 481.82,794.03 480,806.7 C478.18,819.37 472.77,836.18 471.1,851 C469.43,865.82 469.52,883.5 470,895.6 C470.48,907.7 472.08,912.63 474,923.6 C475.92,934.57 480.2,954.33 481.5,961.4 C482.8,968.47 481.75,965.23 481.8,966" fill="none" stroke="#000" stroke-width="2.1"/>
<path d="M184.3,985 Q184,994.5 193,994.5 L475.9,973.2 Q481.8,972.6 481.8,966" fill="none" stroke="#000" stroke-width="2.1"/>
<path d="M187,1060 L184.6,1008.2 L486.3,983.6 Q491,984 491,988 L498.5,1041.6 L523,1049" fill="none" stroke="#000" stroke-width="2.1"/>
<path d="M138.8,1440.35 A14.5,4.35 0 0 1 167.8,1440.35 L167.8,1447.65 A14.5,4.35 0 0 1 138.8,1447.65 Z" fill="#fff" stroke="#000" stroke-width="1.8"/><ellipse cx="153.3" cy="1440.35" rx="14.5" ry="4.35" fill="#fff" stroke="#000" stroke-width="1.5"/>
<path d="M291.7,1571.45 A16.5,4.95 0 0 1 324.7,1571.45 L324.7,1580.55 A16.5,4.95 0 0 1 291.7,1580.55 Z" fill="#fff" stroke="#000" stroke-width="1.8"/><ellipse cx="308.2" cy="1571.45" rx="16.5" ry="4.95" fill="#fff" stroke="#000" stroke-width="1.5"/>
<path d="M626,1511.5 A15,4.5 0 0 1 656,1511.5 L656,1518.5 A15,4.5 0 0 1 626,1518.5 Z" fill="#fff" stroke="#000" stroke-width="1.8"/><ellipse cx="641" cy="1511.5" rx="15" ry="4.5" fill="#fff" stroke="#000" stroke-width="1.5"/>
<path d="M432.7,1396.5 A14,4.2 0 0 1 460.7,1396.5 L460.7,1403.1 A14,4.2 0 0 1 432.7,1403.1 Z" fill="#fff" stroke="#000" stroke-width="1.8"/><ellipse cx="446.7" cy="1396.5" rx="14" ry="4.2" fill="#fff" stroke="#000" stroke-width="1.5"/>
<path d="M356,1130.7 C344.88,1135.47 307.08,1148.97 289.3,1159.3 C271.52,1169.63 259.3,1179.8 249.3,1192.7 C239.3,1205.6 235.35,1222.15 229.3,1236.7 C223.25,1251.25 219.83,1262.62 213,1280 C206.17,1297.38 199.05,1314.83 188.3,1341 C177.55,1367.17 155.13,1421 148.5,1437 L156,1446 L156,1446 C161.38,1433.95 176.58,1401.9 188.3,1373.7 C200.02,1345.5 218.8,1296.3 226.3,1276.8 C233.8,1257.3 230.35,1264.5 233.3,1256.7 C236.25,1248.9 237.33,1240.67 244,1230 C250.67,1219.33 261.75,1203.37 273.3,1192.7 C284.85,1182.03 294.85,1175.28 313.3,1166 C331.75,1156.72 372.22,1141.83 384,1137 Z" fill="#fff" stroke="none"/><path d="M356,1130.7 C344.88,1135.47 307.08,1148.97 289.3,1159.3 C271.52,1169.63 259.3,1179.8 249.3,1192.7 C239.3,1205.6 235.35,1222.15 229.3,1236.7 C223.25,1251.25 219.83,1262.62 213,1280 C206.17,1297.38 199.05,1314.83 188.3,1341 C177.55,1367.17 155.13,1421 148.5,1437" fill="none" stroke="#000" stroke-width="2.1"/><path d="M384,1137 C372.22,1141.83 331.75,1156.72 313.3,1166 C294.85,1175.28 284.85,1182.03 273.3,1192.7 C261.75,1203.37 250.67,1219.33 244,1230 C237.33,1240.67 236.25,1248.9 233.3,1256.7 C230.35,1264.5 233.8,1257.3 226.3,1276.8 C218.8,1296.3 200.02,1345.5 188.3,1373.7 C176.58,1401.9 161.38,1433.95 156,1446" fill="none" stroke="#000" stroke-width="2.1"/><path d="M381,1141 C369.5,1145.67 329.83,1159.83 312,1169 C294.17,1178.17 285,1185.33 274,1196 C263,1206.67 252.5,1222.67 246,1233 C239.5,1243.33 238.75,1250.33 235,1258 C231.25,1265.67 231.75,1259.58 223.5,1279 C215.25,1298.42 197.08,1346.83 185.5,1374.5 C173.92,1402.17 159.25,1433.25 154,1445" fill="none" stroke="#000" stroke-width="0.9"/>
<path d="M356,1130.7 L384,1137" fill="none" stroke="#000" stroke-width="1.2"/>
<path d="M189.7,1373.55 L470.8,1335.55 A6,6 0 0 1 472.4,1347.45 L191.3,1385.45" fill="#fff" stroke="#000" stroke-width="2"/>
<path d="M172.6,997 C172.15,997.92 169.33,996.08 169.9,1002.5 C170.47,1008.92 172.98,1017.58 176,1035.5 C179.02,1053.42 183.78,1085.37 188,1110 C192.22,1134.63 196,1159.97 201.3,1183.3 C206.6,1206.63 214.23,1228.88 219.8,1250 C225.37,1271.12 221.27,1257 234.7,1310 C248.13,1363 289.45,1525 300.4,1568 L317,1566 L317,1566 C305.5,1523.33 261.47,1362.67 248,1310 C234.53,1257.33 239.53,1262.22 236.2,1250 C232.87,1237.78 232.03,1248.92 228,1236.7 C223.97,1224.48 216.67,1197.82 212,1176.7 C207.33,1155.58 204.57,1138.25 200,1110 C195.43,1081.75 187.17,1024.33 184.6,1007.2 Z" fill="#fff" stroke="none"/><path d="M172.6,997 C172.15,997.92 169.33,996.08 169.9,1002.5 C170.47,1008.92 172.98,1017.58 176,1035.5 C179.02,1053.42 183.78,1085.37 188,1110 C192.22,1134.63 196,1159.97 201.3,1183.3 C206.6,1206.63 214.23,1228.88 219.8,1250 C225.37,1271.12 221.27,1257 234.7,1310 C248.13,1363 289.45,1525 300.4,1568" fill="none" stroke="#000" stroke-width="2.1"/><path d="M184.6,1007.2 C187.17,1024.33 195.43,1081.75 200,1110 C204.57,1138.25 207.33,1155.58 212,1176.7 C216.67,1197.82 223.97,1224.48 228,1236.7 C232.03,1248.92 232.87,1237.78 236.2,1250 C239.53,1262.22 234.53,1257.33 248,1310 C261.47,1362.67 305.5,1523.33 317,1566" fill="none" stroke="#000" stroke-width="2.1"/><path d="M172.3,996 C173.17,996.77 175.93,995.6 177.5,1000.6 C179.07,1005.6 178.78,1007.77 181.7,1026 C184.62,1044.23 187.78,1072.67 195,1110 C202.22,1147.33 217.28,1216.67 225,1250 C232.72,1283.33 227.3,1257.17 241.3,1310 C255.3,1362.83 297.72,1524.17 309,1567" fill="none" stroke="#000" stroke-width="0.9"/>
<circle cx="180.3" cy="1048.3" r="3.3" fill="#fff" stroke="#000" stroke-width="1.2"/>
<circle cx="221.3" cy="1248" r="3" fill="#fff" stroke="#000" stroke-width="1"/>
<path d="M188.3,1037.4 L196.8,1037.4 L196.8,1069.5 L226,1076" fill="none" stroke="#000" stroke-width="1.8"/>
<path d="M190.5,1041 L193,1041 L193,1068" fill="none" stroke="#000" stroke-width="0.8"/>
<path d="M196.8,1088.4 L222.3,1094" fill="none" stroke="#000" stroke-width="1.8"/>
<path d="M490,1013 L491,1050 M494,1013 L499,1013 L503,1042 L540,1054" fill="none" stroke="#000" stroke-width="1.6"/>
<path d="M384,1137 L398,1141 Q406,1142 405,1134 L404,1129" fill="none" stroke="#000" stroke-width="1.6"/>
<path d="M380,1132 L394,1136 Q399,1136 399,1131" fill="none" stroke="#000" stroke-width="1"/>
<path d="M514.2,1129.6 C520.03,1148 529.4,1177.1 549.2,1240 C569,1302.9 619.03,1462.5 633,1507 L649,1507 L649,1507 C634.45,1462.5 582.08,1303.17 561.7,1240 C541.32,1176.83 532.53,1146.67 526.7,1128 Z" fill="#fff" stroke="none"/><path d="M514.2,1129.6 C520.03,1148 529.4,1177.1 549.2,1240 C569,1302.9 619.03,1462.5 633,1507" fill="none" stroke="#000" stroke-width="2.1"/><path d="M526.7,1128 C532.53,1146.67 541.32,1176.83 561.7,1240 C582.08,1303.17 634.45,1462.5 649,1507" fill="none" stroke="#000" stroke-width="2.1"/><path d="M522,1129.6 C527.83,1148 537,1177.1 557,1240 C577,1302.9 627.83,1462.5 642,1507" fill="none" stroke="#000" stroke-width="0.9"/>
<path d="M580.3,1119.4 C581.22,1121.17 585.67,1125.97 585.8,1130 C585.93,1134.03 583.83,1139.78 581.1,1143.6 C578.37,1147.42 574.32,1148.77 569.4,1152.9 C564.48,1157.03 556.33,1163.22 551.6,1168.4 C546.87,1173.58 547.23,1172.07 541,1184 C534.77,1195.93 524.17,1219 514.2,1240 C504.23,1261 493.4,1284.17 481.2,1310 C469,1335.83 447.7,1380.83 441,1395 L452,1396 L452,1396 C458.77,1381.67 479.9,1336 492.6,1310 C505.3,1284 519.28,1256.85 528.2,1240 C537.12,1223.15 541.17,1217.33 546.1,1208.9 C551.03,1200.47 552.62,1196.53 557.8,1189.4 C562.98,1182.27 571.37,1172.97 577.2,1166.1 C583.03,1159.23 589.43,1153.38 592.8,1148.2 C596.17,1143.02 597.53,1140.18 597.4,1135 C597.27,1129.82 592.9,1120.08 592,1117.1 Z" fill="#fff" stroke="none"/><path d="M580.3,1119.4 C581.22,1121.17 585.67,1125.97 585.8,1130 C585.93,1134.03 583.83,1139.78 581.1,1143.6 C578.37,1147.42 574.32,1148.77 569.4,1152.9 C564.48,1157.03 556.33,1163.22 551.6,1168.4 C546.87,1173.58 547.23,1172.07 541,1184 C534.77,1195.93 524.17,1219 514.2,1240 C504.23,1261 493.4,1284.17 481.2,1310 C469,1335.83 447.7,1380.83 441,1395" fill="none" stroke="#000" stroke-width="2.1"/><path d="M592,1117.1 C592.9,1120.08 597.27,1129.82 597.4,1135 C597.53,1140.18 596.17,1143.02 592.8,1148.2 C589.43,1153.38 583.03,1159.23 577.2,1166.1 C571.37,1172.97 562.98,1182.27 557.8,1189.4 C552.62,1196.53 551.03,1200.47 546.1,1208.9 C541.17,1217.33 537.12,1223.15 528.2,1240 C519.28,1256.85 505.3,1284 492.6,1310 C479.9,1336 458.77,1381.67 452,1396" fill="none" stroke="#000" stroke-width="2.1"/><path d="M589.5,1117.6 C590.35,1120.5 594.52,1129.93 594.6,1135 C594.68,1140.07 593.27,1143 590,1148 C586.73,1153 580.75,1158.33 575,1165 C569.25,1171.67 560.73,1180.83 555.5,1188 C550.27,1195.17 548.57,1199.33 543.6,1208 C538.63,1216.67 534.6,1223 525.7,1240 C516.8,1257 502.9,1284 490.2,1310 C477.5,1336 456.28,1381.67 449.5,1396" fill="none" stroke="#000" stroke-width="0.9"/>
<circle cx="533.7" cy="1211.2" r="3" fill="#fff" stroke="#000" stroke-width="1"/>
<path d="M287.16,1456.57 L609.16,1406.57 A5.5,5.5 0 0 1 610.84,1417.43 L288.84,1467.43" fill="#fff" stroke="#000" stroke-width="2"/>
<path d="M265.2,1363.25 L470.8,1335.55 A6,6 0 0 1 472.4,1347.45 L266.8,1375.15" fill="#fff" stroke="#000" stroke-width="2"/>
<path d="M222.2,1085.15 A208.4,33.65 0 0 1 639,1085.15 L639,1088 A208.4,44 0 0 1 222.2,1088 Z" fill="#fff" stroke="#000" stroke-width="2.3"/>
<use href="#pat0" fill="none" stroke="#222" stroke-width="2.4"/><use href="#pat0" fill="none" stroke="#fff" stroke-width="1.1"/>
<path d="M222.2,1085.15 A208.4,33.65 0 0 0 639,1085.15" fill="none" stroke="#000" stroke-width="1.1"/>
<path d="M222.2,1085.15 A208.4,33.65 0 0 1 639,1085.15 L639,1088 A208.4,44 0 0 1 222.2,1088 Z" fill="none" stroke="#000" stroke-width="2.3"/>
<ellipse cx="428" cy="1081" rx="42" ry="6" fill="#fff" stroke="#555" stroke-width="0.8"/></g>
<path d="M972.5,1452.05 A13.5,4.05 0 0 1 999.5,1452.05 L999.5,1457.95 A13.5,4.05 0 0 1 972.5,1457.95 Z" fill="#fff" stroke="#000" stroke-width="1.8"/><ellipse cx="986" cy="1452.05" rx="13.5" ry="4.05" fill="#fff" stroke="#000" stroke-width="1.5"/>
<path d="M1189.5,1571.65 A15.5,4.65 0 0 1 1220.5,1571.65 L1220.5,1578.35 A15.5,4.65 0 0 1 1189.5,1578.35 Z" fill="#fff" stroke="#000" stroke-width="1.8"/><ellipse cx="1205" cy="1571.65" rx="15.5" ry="4.65" fill="#fff" stroke="#000" stroke-width="1.5"/>
<path d="M1504,1487.4 A14,4.2 0 0 1 1532,1487.4 L1532,1494 A14,4.2 0 0 1 1504,1494 Z" fill="#fff" stroke="#000" stroke-width="1.8"/><ellipse cx="1518" cy="1487.4" rx="14" ry="4.2" fill="#fff" stroke="#000" stroke-width="1.5"/>
<path d="M1254,1388.6 A13,3.9 0 0 1 1280,1388.6 L1280,1394.8 A13,3.9 0 0 1 1254,1394.8 Z" fill="#fff" stroke="#000" stroke-width="1.8"/><ellipse cx="1267" cy="1388.6" rx="13" ry="3.9" fill="#fff" stroke="#000" stroke-width="1.5"/>
<polygon points="1283.3,855.6 1506.7,1484 1526.7,1482 1300,855.6" fill="#fff" stroke="none"/><path d="M1283.3,855.6 L1506.7,1484 M1300,855.6 L1526.7,1482" fill="none" stroke="#000" stroke-width="2.1"/><path d="M1292.48,855.6 L1517.7,1482.9" fill="none" stroke="#000" stroke-width="0.9"/>
<path d="M1139.21,1106.81 L1390.21,1071.81 A5.75,5.75 0 0 1 1391.79,1083.19 L1140.79,1118.19" fill="#fff" stroke="#000" stroke-width="2"/>
<polygon points="1431,1013 1260,1384 1278.3,1384 1450.6,1013" fill="#fff" stroke="none"/><path d="M1431,1013 L1260,1384 M1450.6,1013 L1278.3,1384" fill="none" stroke="#000" stroke-width="2.1"/><path d="M1444.72,1013 L1272.81,1384" fill="none" stroke="#000" stroke-width="0.9"/>
<path d="M1431,1013 Q1440,1006 1450.6,1013" fill="#fff" stroke="#000" stroke-width="1.8"/>
<ellipse cx="1378.3" cy="1138.3" rx="2.6" ry="3.4" fill="#fff" stroke="#000" stroke-width="1"/>
<path d="M1003.68,912.26 L1301.68,889.76 A4.25,4.25 0 0 1 1302.32,898.24 L1004.32,920.74" fill="#fff" stroke="#000" stroke-width="2"/>
<path d="M1016.98,1383.6 L1288.98,1332.1 A5.5,5.5 0 0 1 1291.02,1342.9 L1019.02,1394.4" fill="#fff" stroke="#000" stroke-width="2"/>
<polygon points="1505.8,845.8 1390.8,1085 1402.7,1093 1522.5,853.3" fill="#fff" stroke="none"/><path d="M1505.8,845.8 L1390.8,1085 M1522.5,853.3 L1402.7,1093" fill="none" stroke="#000" stroke-width="2.1"/><path d="M1517.49,851.05 L1399.13,1090.6" fill="none" stroke="#000" stroke-width="0.9"/>
<path d="M1390.8,1085 Q1394,1095 1402.7,1093" fill="#fff" stroke="#000" stroke-width="1.8"/>
<path d="M1521,842 L1526,842 L1526,855 Q1525,860 1521,861 Z" fill="#fff" stroke="#000" stroke-width="1.2"/>
<path d="M1505.8,845.8 L1512,842 L1524,851 L1522.5,853.3 L1517,855 Z" fill="#fff" stroke="#000" stroke-width="1.4"/>
<ellipse cx="1508.3" cy="853.3" rx="2.6" ry="3.4" fill="#fff" stroke="#000" stroke-width="1"/>
<ellipse cx="1427.5" cy="1014.2" rx="2.6" ry="3.4" fill="#fff" stroke="#000" stroke-width="1"/>
<path d="M1203.6,945.02 L1474.6,921.02 A4.5,4.5 0 0 1 1475.4,929.98 L1204.4,953.98" fill="#fff" stroke="#000" stroke-width="2"/>
<path d="M1183.89,1470.12 L1485.89,1401.62 A5,5 0 0 1 1488.11,1411.38 L1186.11,1479.88" fill="#fff" stroke="#000" stroke-width="2"/>
<polygon points="961,838 1190,1568 1208,1566 980,842" fill="#fff" stroke="none"/><path d="M961,838 L1190,1568 M980,842 L1208,1566" fill="none" stroke="#000" stroke-width="2.1"/><path d="M973.35,840.6 L1201.7,1566.7" fill="none" stroke="#000" stroke-width="0.9"/>
<ellipse cx="1074.3" cy="1185.7" rx="2.6" ry="3.4" fill="#fff" stroke="#000" stroke-width="1"/>
<ellipse cx="968" cy="846" rx="2.4" ry="3" fill="#fff" stroke="#000" stroke-width="1"/>
<polygon points="1213,880 1124,1134 1131.5,1137 1235,873" fill="#fff" stroke="none"/><path d="M1213,880 L1124,1134 M1235,873 L1131.5,1137" fill="none" stroke="#000" stroke-width="2.1"/><path d="M1228.4,875.1 L1129.25,1136.1" fill="none" stroke="#000" stroke-width="0.9"/>
<path d="M1124,1134 Q1127,1139 1131.5,1137" fill="none" stroke="#000" stroke-width="1.6"/>
<polygon points="1138.2,1038.7 977.9,1447.3 989.3,1453 1154.6,1048.8" fill="#fff" stroke="none"/><path d="M1138.2,1038.7 L977.9,1447.3 M1154.6,1048.8 L989.3,1453" fill="none" stroke="#000" stroke-width="2.1"/><path d="M1149.68,1045.77 L985.88,1451.29" fill="none" stroke="#000" stroke-width="0.9"/>
<path d="M1138.2,1038.7 L1141,1036 L1148,1035 L1155.5,1045 L1154.6,1048.8 L1144,1043 Z" fill="#fff" stroke="#000" stroke-width="1.6"/>
<ellipse cx="1139.8" cy="1050.3" rx="2.6" ry="3.6" fill="#fff" stroke="#000" stroke-width="1"/>
<path d="M1100,1111 L1104,1110 L1099,1124 L1096,1124 Z" fill="#fff" stroke="#000" stroke-width="1"/>
<polygon points="1040.05,1090 1120.05,1345 1138.4,1345 1058.1,1090" fill="#fff" stroke="none"/><path d="M1040.05,1090 L1120.05,1345 M1058.1,1090 L1138.4,1345" fill="none" stroke="#000" stroke-width="2.1"/><path d="M1051.78,1090 L1131.98,1345" fill="none" stroke="#000" stroke-width="0.9"/>
<ellipse cx="1074.3" cy="1185.7" rx="2.6" ry="3.4" fill="#fff" stroke="#000" stroke-width="1"/>
<path d="M1222.2,874.4 L1224,862 L1235,868 L1234.7,872.7 Z" fill="#fff" stroke="#000" stroke-width="1.6"/>
<path d="M1210.7,855 L1211.5,878 Q1216,886 1222,880 L1222.2,855" fill="#fff" stroke="#000" stroke-width="1.6"/>
<ellipse cx="1216" cy="876" rx="2.6" ry="3.3" fill="#fff" stroke="#000" stroke-width="1"/>
<ellipse cx="1244" cy="821.5" rx="326" ry="34.5" fill="#fff" stroke="#000" stroke-width="2.3"/>
<use href="#pat1" fill="none" stroke="#3a3a3a" stroke-width="2.5"/><use href="#pat1" fill="none" stroke="#fff" stroke-width="1.0"/>
<ellipse cx="1244" cy="821.5" rx="326" ry="34.5" fill="none" stroke="#000" stroke-width="1.9"/>
<ellipse cx="1239" cy="819" rx="69" ry="12" fill="#fff" stroke="#222" stroke-width="1"/>
<polygon points="123.3,527.6 144.9,540.24 144.82,530.74 474.03,528.26 474.1,537.76 495.5,524.8 473.9,512.16 473.98,521.66 144.77,524.14 144.7,514.64" fill="#231f20"/>
<polygon points="92.9,556.3 80.1,577.8 89.6,577.8 89.6,1436.3 80.1,1436.3 92.9,1457.8 105.7,1436.3 96.2,1436.3 96.2,577.8 105.7,577.8" fill="#231f20"/>
<polygon points="296.8,555.5 287.05,578.54 296.46,577.25 358.9,1031.35 349.49,1032.64 365.1,1052.2 374.85,1029.16 365.44,1030.45 303,576.35 312.41,575.06" fill="#231f20"/>
<polygon points="234,1090 255.66,1102.52 255.54,1093.03 604.44,1088.57 604.57,1098.07 625.9,1085 604.24,1072.48 604.36,1081.97 255.46,1086.43 255.33,1076.93" fill="#231f20"/>
<polygon points="161.6,1454.4 168.21,1478.53 174.8,1471.69 273.12,1566.36 266.53,1573.21 290.9,1578.9 284.29,1554.77 277.7,1561.61 179.38,1466.94 185.97,1460.09" fill="#231f20"/>
<polygon points="104.8,1477 111.41,1501.13 118,1494.29 238.12,1609.96 231.53,1616.81 255.9,1622.5 249.29,1598.37 242.7,1605.21 122.58,1489.54 129.17,1482.69" fill="#231f20"/>
<polygon points="328.4,1577 351.94,1585.49 350.14,1576.16 605.12,1526.92 606.92,1536.24 625.6,1519.6 602.06,1511.11 603.86,1520.44 348.88,1569.68 347.08,1560.36" fill="#231f20"/>
<polygon points="330,1633 353.6,1641.3 351.73,1631.99 648.58,1572.18 650.45,1581.49 669,1564.7 645.4,1556.4 647.27,1565.71 350.42,1625.52 348.55,1616.21" fill="#231f20"/>
<polygon points="909,762.4 930.49,775.21 930.5,765.71 1551.8,765.99 1551.79,775.49 1573.3,762.7 1551.81,749.89 1551.8,759.39 930.5,759.11 930.51,749.61" fill="#231f20"/>
<polygon points="888,820 875.2,841.5 884.7,841.5 884.7,1430.5 875.2,1430.5 888,1452 900.8,1430.5 891.3,1430.5 891.3,841.5 900.8,841.5" fill="#231f20"/>
<polygon points="990,1465 1002.75,1486.53 1007.29,1478.19 1167.55,1565.6 1163,1573.94 1188,1573 1175.25,1551.47 1170.71,1559.81 1010.45,1472.4 1015,1464.06" fill="#231f20"/>
<polygon points="950,1510 962.21,1531.84 966.97,1523.61 1154.73,1632.1 1149.98,1640.33 1175,1640 1162.79,1618.16 1158.03,1626.39 970.27,1517.9 975.02,1509.67" fill="#231f20"/>
<polygon points="1221.7,1576.7 1245.89,1583.1 1243.28,1573.97 1481.93,1505.78 1484.54,1514.91 1501.7,1496.7 1477.51,1490.3 1480.12,1499.43 1241.47,1567.62 1238.86,1558.49" fill="#231f20"/>
<polygon points="1226.7,1633 1250.96,1639.12 1248.25,1630.01 1525.34,1547.31 1528.06,1556.41 1545,1538 1520.74,1531.88 1523.45,1540.99 1246.36,1623.69 1243.64,1614.59" fill="#231f20"/>
<text transform="translate(318.05,500.65) rotate(-0.3) scale(1.0065,1) translate(-57.15,14.1)" font-size="40.99" fill="#231f20" stroke="#231f20" stroke-width="1.3" stroke-linejoin="round">42 cm</text>
<text transform="translate(63,992.2) rotate(-90) scale(1.0075,1) translate(-57.55,14.1)" font-size="40.99" fill="#231f20" stroke="#231f20" stroke-width="1.3" stroke-linejoin="round">95 cm</text>
<text transform="translate(300,786.4) rotate(-97.15) scale(0.9900,1) translate(-57.47,14.1)" font-size="40.99" fill="#231f20" stroke="#231f20" stroke-width="1.3" stroke-linejoin="round">51 cm</text>
<text transform="translate(442.9,1119.05) rotate(0) scale(1.0343,1) translate(-76.5,13.6)" font-size="39.54" fill="#231f20" stroke="#231f20" stroke-width="1.3" stroke-linejoin="round">Ø 40 cm</text>
<text transform="translate(239.6,1492.6) rotate(41.6) scale(0.9835,1) translate(-57.15,14.1)" font-size="40.99" fill="#231f20" stroke="#231f20" stroke-width="1.3" stroke-linejoin="round">42 cm</text>
<text transform="translate(201.7,1534.2) rotate(41.6) scale(0.9933,1) translate(-57.15,14.1)" font-size="40.99" fill="#231f20" stroke="#231f20" stroke-width="1.3" stroke-linejoin="round">46 cm</text>
<text transform="translate(479.6,1521.2) rotate(-9.6) scale(0.9925,1) translate(-57.31,14.1)" font-size="40.99" fill="#231f20" stroke="#231f20" stroke-width="1.3" stroke-linejoin="round">33 cm</text>
<text transform="translate(493.5,1574.9) rotate(-9.8) scale(1.0030,1) translate(-57.15,14.1)" font-size="40.99" fill="#231f20" stroke="#231f20" stroke-width="1.3" stroke-linejoin="round">40 cm</text>
<text transform="translate(1234.25,728.8) rotate(0) scale(1.0268,1) translate(-77.91,13.85)" font-size="40.26" fill="#231f20" stroke="#231f20" stroke-width="1.3" stroke-linejoin="round">Ø 70 cm</text>
<text transform="translate(859.3,1115.3) rotate(-90) scale(1.0025,1) translate(-57.72,14.1)" font-size="40.99" fill="#231f20" stroke="#231f20" stroke-width="1.3" stroke-linejoin="round">76 cm</text>
<text transform="translate(1095.6,1499.2) rotate(28.6) scale(0.9995,1) translate(-57.15,14.1)" font-size="40.99" fill="#231f20" stroke="#231f20" stroke-width="1.3" stroke-linejoin="round">43 cm</text>
<text transform="translate(1065.9,1551.1) rotate(29.2) scale(0.9989,1) translate(-57.47,14.1)" font-size="40.99" fill="#231f20" stroke="#231f20" stroke-width="1.3" stroke-linejoin="round">50 cm</text>
<text transform="translate(1360.6,1507.3) rotate(-17.2) scale(0.9988,1) translate(-57.31,14.1)" font-size="40.99" fill="#231f20" stroke="#231f20" stroke-width="1.3" stroke-linejoin="round">38 cm</text>
<text transform="translate(1382.4,1559.9) rotate(-16.8) scale(1.0039,1) translate(-57.15,14.1)" font-size="40.99" fill="#231f20" stroke="#231f20" stroke-width="1.3" stroke-linejoin="round">44 cm</text>
<text transform="translate(1688.7,1634) rotate(0) scale(1.0319,1) translate(-61.57,11.35)" font-size="32.99" fill="#231f20" stroke="#231f20" stroke-width="1.3" stroke-linejoin="round">+/- 2 cm</text>
<text transform="translate(534.9,595.3) rotate(0) scale(1.0071,1) translate(-43.45,27.7)" font-size="80.52" fill="#231f20" stroke="#231f20" stroke-width="1.3" stroke-linejoin="round">x2</text>
</svg></body></html>
